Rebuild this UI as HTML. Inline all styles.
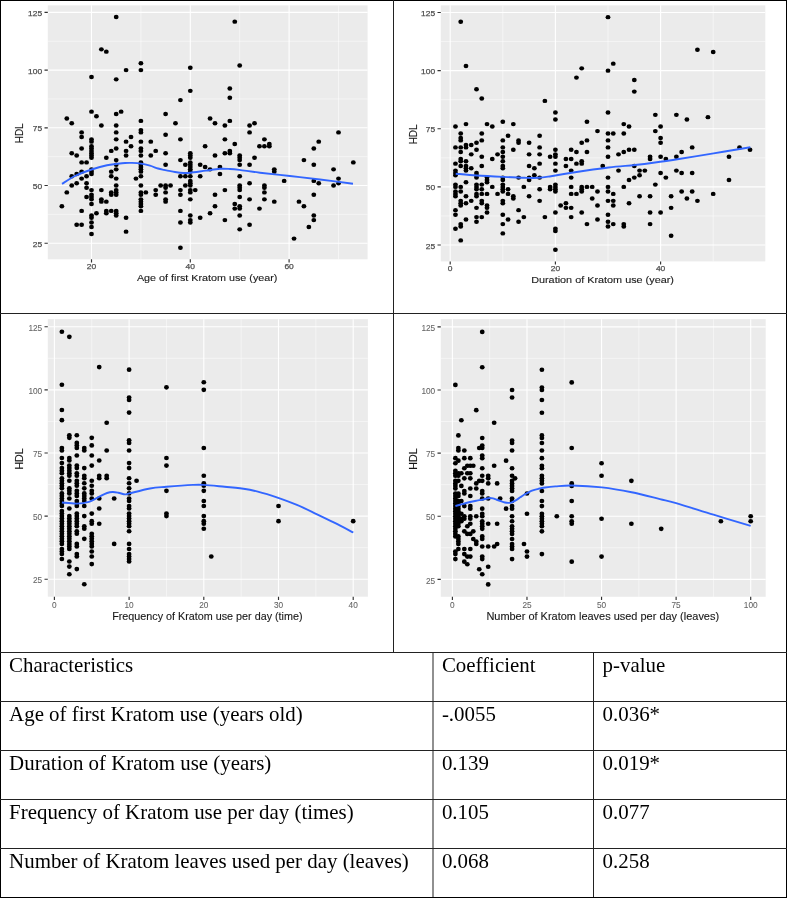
<!DOCTYPE html>
<html><head><meta charset="utf-8"><title>HDL and Kratom use</title>
<style>
html,body{margin:0;padding:0;background:#fff;}
body{width:787px;height:898px;position:relative;overflow:hidden;}
svg{position:absolute;left:0;top:0;}
.ax{font-family:"Liberation Sans",sans-serif;fill:#4d4d4d;stroke:#4d4d4d;stroke-width:0.25px;}
.lt{stroke-width:0.08px;fill:#636363;stroke:#636363;}
.ti{font-family:"Liberation Sans",sans-serif;fill:#1a1a1a;stroke:#1a1a1a;stroke-width:0.12px;}
.tb{position:absolute;font-family:"Liberation Serif",serif;font-size:20.9px;line-height:24px;color:#000;white-space:nowrap;}
</style></head><body>
<svg width="787" height="898" viewBox="0 0 787 898">
<defs><filter id="soft" x="-2%" y="-2%" width="104%" height="104%"><feGaussianBlur stdDeviation="0.38"/></filter></defs>

<g id="p1" filter="url(#soft)">
<rect x="47.8" y="5.35" width="319.8" height="253.95" fill="#ebebeb"/>
<path d="M140.9 5.35V259.3M239.7 5.35V259.3M338.5 5.35V259.3M47.8 214.35H367.6M47.8 156.65H367.6M47.8 98.95H367.6M47.8 41.25H367.6" stroke="#fff" stroke-width="0.55" fill="none" opacity="0.9"/>
<path d="M91.5 5.35V259.3M190.3 5.35V259.3M289.1 5.35V259.3M47.8 243.2H367.6M47.8 185.5H367.6M47.8 127.8H367.6M47.8 70.1H367.6M47.8 12.4H367.6" stroke="#fff" stroke-width="1.1" fill="none"/>
<path d="M91.5 259.3v3.2M190.3 259.3v3.2M289.1 259.3v3.2M47.8 243.2h-3.3M47.8 185.5h-3.3M47.8 127.8h-3.3M47.8 70.1h-3.3M47.8 12.4h-3.3" stroke="#333" stroke-width="1.15" fill="none"/>
<g fill="#000">
<ellipse cx="61.86" cy="206.27" rx="2.4" ry="2.2"/>
<ellipse cx="66.8" cy="118.57" rx="2.4" ry="2.2"/>
<ellipse cx="66.8" cy="192.42" rx="2.4" ry="2.2"/>
<ellipse cx="71.74" cy="123.18" rx="2.4" ry="2.2"/>
<ellipse cx="71.74" cy="153.19" rx="2.4" ry="2.2"/>
<ellipse cx="71.74" cy="176.27" rx="2.4" ry="2.2"/>
<ellipse cx="71.74" cy="185.5" rx="2.4" ry="2.2"/>
<ellipse cx="76.68" cy="155.5" rx="2.4" ry="2.2"/>
<ellipse cx="76.68" cy="173.96" rx="2.4" ry="2.2"/>
<ellipse cx="76.68" cy="183.19" rx="2.4" ry="2.2"/>
<ellipse cx="76.68" cy="224.74" rx="2.4" ry="2.2"/>
<ellipse cx="81.62" cy="132.42" rx="2.4" ry="2.2"/>
<ellipse cx="81.62" cy="137.03" rx="2.4" ry="2.2"/>
<ellipse cx="81.62" cy="148.57" rx="2.4" ry="2.2"/>
<ellipse cx="81.62" cy="162.42" rx="2.4" ry="2.2"/>
<ellipse cx="81.62" cy="171.65" rx="2.4" ry="2.2"/>
<ellipse cx="81.62" cy="178.58" rx="2.4" ry="2.2"/>
<ellipse cx="81.62" cy="210.89" rx="2.4" ry="2.2"/>
<ellipse cx="81.62" cy="224.74" rx="2.4" ry="2.2"/>
<ellipse cx="86.56" cy="162.42" rx="2.4" ry="2.2"/>
<ellipse cx="86.56" cy="176.27" rx="2.4" ry="2.2"/>
<ellipse cx="86.56" cy="183.19" rx="2.4" ry="2.2"/>
<ellipse cx="86.56" cy="187.81" rx="2.4" ry="2.2"/>
<ellipse cx="86.56" cy="197.04" rx="2.4" ry="2.2"/>
<ellipse cx="91.5" cy="77.02" rx="2.4" ry="2.2"/>
<ellipse cx="91.5" cy="111.64" rx="2.4" ry="2.2"/>
<ellipse cx="91.5" cy="139.34" rx="2.4" ry="2.2"/>
<ellipse cx="91.5" cy="141.65" rx="2.4" ry="2.2"/>
<ellipse cx="91.5" cy="146.26" rx="2.4" ry="2.2"/>
<ellipse cx="91.5" cy="148.57" rx="2.4" ry="2.2"/>
<ellipse cx="91.5" cy="150.88" rx="2.4" ry="2.2"/>
<ellipse cx="91.5" cy="153.19" rx="2.4" ry="2.2"/>
<ellipse cx="91.5" cy="155.5" rx="2.4" ry="2.2"/>
<ellipse cx="91.5" cy="157.8" rx="2.4" ry="2.2"/>
<ellipse cx="91.5" cy="169.34" rx="2.4" ry="2.2"/>
<ellipse cx="91.5" cy="171.65" rx="2.4" ry="2.2"/>
<ellipse cx="91.5" cy="173.96" rx="2.4" ry="2.2"/>
<ellipse cx="91.5" cy="190.12" rx="2.4" ry="2.2"/>
<ellipse cx="91.5" cy="194.73" rx="2.4" ry="2.2"/>
<ellipse cx="91.5" cy="197.04" rx="2.4" ry="2.2"/>
<ellipse cx="91.5" cy="199.35" rx="2.4" ry="2.2"/>
<ellipse cx="91.5" cy="203.96" rx="2.4" ry="2.2"/>
<ellipse cx="91.5" cy="215.5" rx="2.4" ry="2.2"/>
<ellipse cx="91.5" cy="217.81" rx="2.4" ry="2.2"/>
<ellipse cx="91.5" cy="222.43" rx="2.4" ry="2.2"/>
<ellipse cx="91.5" cy="227.04" rx="2.4" ry="2.2"/>
<ellipse cx="91.5" cy="233.97" rx="2.4" ry="2.2"/>
<ellipse cx="96.44" cy="116.26" rx="2.4" ry="2.2"/>
<ellipse cx="96.44" cy="213.2" rx="2.4" ry="2.2"/>
<ellipse cx="101.38" cy="49.33" rx="2.4" ry="2.2"/>
<ellipse cx="101.38" cy="125.49" rx="2.4" ry="2.2"/>
<ellipse cx="101.38" cy="190.12" rx="2.4" ry="2.2"/>
<ellipse cx="101.38" cy="199.35" rx="2.4" ry="2.2"/>
<ellipse cx="101.38" cy="201.66" rx="2.4" ry="2.2"/>
<ellipse cx="106.32" cy="51.64" rx="2.4" ry="2.2"/>
<ellipse cx="106.32" cy="157.8" rx="2.4" ry="2.2"/>
<ellipse cx="106.32" cy="201.66" rx="2.4" ry="2.2"/>
<ellipse cx="106.32" cy="210.89" rx="2.4" ry="2.2"/>
<ellipse cx="106.32" cy="213.2" rx="2.4" ry="2.2"/>
<ellipse cx="111.26" cy="150.88" rx="2.4" ry="2.2"/>
<ellipse cx="111.26" cy="171.65" rx="2.4" ry="2.2"/>
<ellipse cx="111.26" cy="176.27" rx="2.4" ry="2.2"/>
<ellipse cx="111.26" cy="192.42" rx="2.4" ry="2.2"/>
<ellipse cx="111.26" cy="194.73" rx="2.4" ry="2.2"/>
<ellipse cx="111.26" cy="210.89" rx="2.4" ry="2.2"/>
<ellipse cx="116.2" cy="17.02" rx="2.4" ry="2.2"/>
<ellipse cx="116.2" cy="79.33" rx="2.4" ry="2.2"/>
<ellipse cx="116.2" cy="113.95" rx="2.4" ry="2.2"/>
<ellipse cx="116.2" cy="125.49" rx="2.4" ry="2.2"/>
<ellipse cx="116.2" cy="132.42" rx="2.4" ry="2.2"/>
<ellipse cx="116.2" cy="139.34" rx="2.4" ry="2.2"/>
<ellipse cx="116.2" cy="148.57" rx="2.4" ry="2.2"/>
<ellipse cx="116.2" cy="160.11" rx="2.4" ry="2.2"/>
<ellipse cx="116.2" cy="164.73" rx="2.4" ry="2.2"/>
<ellipse cx="116.2" cy="169.34" rx="2.4" ry="2.2"/>
<ellipse cx="116.2" cy="178.58" rx="2.4" ry="2.2"/>
<ellipse cx="116.2" cy="185.5" rx="2.4" ry="2.2"/>
<ellipse cx="116.2" cy="190.12" rx="2.4" ry="2.2"/>
<ellipse cx="116.2" cy="192.42" rx="2.4" ry="2.2"/>
<ellipse cx="116.2" cy="194.73" rx="2.4" ry="2.2"/>
<ellipse cx="116.2" cy="210.89" rx="2.4" ry="2.2"/>
<ellipse cx="116.2" cy="213.2" rx="2.4" ry="2.2"/>
<ellipse cx="116.2" cy="215.5" rx="2.4" ry="2.2"/>
<ellipse cx="121.14" cy="111.64" rx="2.4" ry="2.2"/>
<ellipse cx="126.08" cy="70.1" rx="2.4" ry="2.2"/>
<ellipse cx="126.08" cy="141.65" rx="2.4" ry="2.2"/>
<ellipse cx="126.08" cy="150.88" rx="2.4" ry="2.2"/>
<ellipse cx="126.08" cy="155.5" rx="2.4" ry="2.2"/>
<ellipse cx="126.08" cy="217.81" rx="2.4" ry="2.2"/>
<ellipse cx="126.08" cy="231.66" rx="2.4" ry="2.2"/>
<ellipse cx="131.02" cy="137.03" rx="2.4" ry="2.2"/>
<ellipse cx="131.02" cy="146.26" rx="2.4" ry="2.2"/>
<ellipse cx="135.96" cy="178.58" rx="2.4" ry="2.2"/>
<ellipse cx="140.9" cy="63.18" rx="2.4" ry="2.2"/>
<ellipse cx="140.9" cy="70.1" rx="2.4" ry="2.2"/>
<ellipse cx="140.9" cy="120.88" rx="2.4" ry="2.2"/>
<ellipse cx="140.9" cy="130.11" rx="2.4" ry="2.2"/>
<ellipse cx="140.9" cy="132.42" rx="2.4" ry="2.2"/>
<ellipse cx="140.9" cy="141.65" rx="2.4" ry="2.2"/>
<ellipse cx="140.9" cy="148.57" rx="2.4" ry="2.2"/>
<ellipse cx="140.9" cy="150.88" rx="2.4" ry="2.2"/>
<ellipse cx="140.9" cy="155.5" rx="2.4" ry="2.2"/>
<ellipse cx="140.9" cy="162.42" rx="2.4" ry="2.2"/>
<ellipse cx="140.9" cy="164.73" rx="2.4" ry="2.2"/>
<ellipse cx="140.9" cy="167.04" rx="2.4" ry="2.2"/>
<ellipse cx="140.9" cy="169.34" rx="2.4" ry="2.2"/>
<ellipse cx="140.9" cy="171.65" rx="2.4" ry="2.2"/>
<ellipse cx="140.9" cy="176.27" rx="2.4" ry="2.2"/>
<ellipse cx="140.9" cy="185.5" rx="2.4" ry="2.2"/>
<ellipse cx="140.9" cy="192.42" rx="2.4" ry="2.2"/>
<ellipse cx="140.9" cy="194.73" rx="2.4" ry="2.2"/>
<ellipse cx="140.9" cy="199.35" rx="2.4" ry="2.2"/>
<ellipse cx="140.9" cy="201.66" rx="2.4" ry="2.2"/>
<ellipse cx="140.9" cy="203.96" rx="2.4" ry="2.2"/>
<ellipse cx="140.9" cy="206.27" rx="2.4" ry="2.2"/>
<ellipse cx="140.9" cy="210.89" rx="2.4" ry="2.2"/>
<ellipse cx="145.84" cy="192.42" rx="2.4" ry="2.2"/>
<ellipse cx="150.78" cy="141.65" rx="2.4" ry="2.2"/>
<ellipse cx="150.78" cy="155.5" rx="2.4" ry="2.2"/>
<ellipse cx="155.72" cy="150.88" rx="2.4" ry="2.2"/>
<ellipse cx="155.72" cy="190.12" rx="2.4" ry="2.2"/>
<ellipse cx="155.72" cy="194.73" rx="2.4" ry="2.2"/>
<ellipse cx="160.66" cy="185.5" rx="2.4" ry="2.2"/>
<ellipse cx="165.6" cy="113.95" rx="2.4" ry="2.2"/>
<ellipse cx="165.6" cy="134.72" rx="2.4" ry="2.2"/>
<ellipse cx="165.6" cy="153.19" rx="2.4" ry="2.2"/>
<ellipse cx="165.6" cy="164.73" rx="2.4" ry="2.2"/>
<ellipse cx="165.6" cy="185.5" rx="2.4" ry="2.2"/>
<ellipse cx="165.6" cy="187.81" rx="2.4" ry="2.2"/>
<ellipse cx="165.6" cy="192.42" rx="2.4" ry="2.2"/>
<ellipse cx="165.6" cy="199.35" rx="2.4" ry="2.2"/>
<ellipse cx="165.6" cy="201.66" rx="2.4" ry="2.2"/>
<ellipse cx="170.54" cy="185.5" rx="2.4" ry="2.2"/>
<ellipse cx="175.48" cy="123.18" rx="2.4" ry="2.2"/>
<ellipse cx="180.42" cy="100.1" rx="2.4" ry="2.2"/>
<ellipse cx="180.42" cy="139.34" rx="2.4" ry="2.2"/>
<ellipse cx="180.42" cy="160.11" rx="2.4" ry="2.2"/>
<ellipse cx="180.42" cy="176.27" rx="2.4" ry="2.2"/>
<ellipse cx="180.42" cy="190.12" rx="2.4" ry="2.2"/>
<ellipse cx="180.42" cy="194.73" rx="2.4" ry="2.2"/>
<ellipse cx="180.42" cy="210.89" rx="2.4" ry="2.2"/>
<ellipse cx="180.42" cy="222.43" rx="2.4" ry="2.2"/>
<ellipse cx="180.42" cy="247.82" rx="2.4" ry="2.2"/>
<ellipse cx="185.36" cy="164.73" rx="2.4" ry="2.2"/>
<ellipse cx="185.36" cy="176.27" rx="2.4" ry="2.2"/>
<ellipse cx="185.36" cy="185.5" rx="2.4" ry="2.2"/>
<ellipse cx="190.3" cy="67.79" rx="2.4" ry="2.2"/>
<ellipse cx="190.3" cy="90.87" rx="2.4" ry="2.2"/>
<ellipse cx="190.3" cy="153.19" rx="2.4" ry="2.2"/>
<ellipse cx="190.3" cy="155.5" rx="2.4" ry="2.2"/>
<ellipse cx="190.3" cy="157.8" rx="2.4" ry="2.2"/>
<ellipse cx="190.3" cy="162.42" rx="2.4" ry="2.2"/>
<ellipse cx="190.3" cy="164.73" rx="2.4" ry="2.2"/>
<ellipse cx="190.3" cy="167.04" rx="2.4" ry="2.2"/>
<ellipse cx="190.3" cy="169.34" rx="2.4" ry="2.2"/>
<ellipse cx="190.3" cy="171.65" rx="2.4" ry="2.2"/>
<ellipse cx="190.3" cy="176.27" rx="2.4" ry="2.2"/>
<ellipse cx="190.3" cy="180.88" rx="2.4" ry="2.2"/>
<ellipse cx="190.3" cy="183.19" rx="2.4" ry="2.2"/>
<ellipse cx="190.3" cy="185.5" rx="2.4" ry="2.2"/>
<ellipse cx="190.3" cy="190.12" rx="2.4" ry="2.2"/>
<ellipse cx="190.3" cy="192.42" rx="2.4" ry="2.2"/>
<ellipse cx="190.3" cy="199.35" rx="2.4" ry="2.2"/>
<ellipse cx="190.3" cy="215.5" rx="2.4" ry="2.2"/>
<ellipse cx="190.3" cy="220.12" rx="2.4" ry="2.2"/>
<ellipse cx="190.3" cy="222.43" rx="2.4" ry="2.2"/>
<ellipse cx="195.24" cy="190.12" rx="2.4" ry="2.2"/>
<ellipse cx="200.18" cy="164.73" rx="2.4" ry="2.2"/>
<ellipse cx="200.18" cy="176.27" rx="2.4" ry="2.2"/>
<ellipse cx="200.18" cy="217.81" rx="2.4" ry="2.2"/>
<ellipse cx="205.12" cy="146.26" rx="2.4" ry="2.2"/>
<ellipse cx="205.12" cy="167.04" rx="2.4" ry="2.2"/>
<ellipse cx="210.06" cy="118.57" rx="2.4" ry="2.2"/>
<ellipse cx="210.06" cy="169.34" rx="2.4" ry="2.2"/>
<ellipse cx="210.06" cy="213.2" rx="2.4" ry="2.2"/>
<ellipse cx="215" cy="123.18" rx="2.4" ry="2.2"/>
<ellipse cx="215" cy="155.5" rx="2.4" ry="2.2"/>
<ellipse cx="215" cy="194.73" rx="2.4" ry="2.2"/>
<ellipse cx="215" cy="206.27" rx="2.4" ry="2.2"/>
<ellipse cx="219.94" cy="167.04" rx="2.4" ry="2.2"/>
<ellipse cx="219.94" cy="173.96" rx="2.4" ry="2.2"/>
<ellipse cx="224.88" cy="125.49" rx="2.4" ry="2.2"/>
<ellipse cx="224.88" cy="139.34" rx="2.4" ry="2.2"/>
<ellipse cx="224.88" cy="153.19" rx="2.4" ry="2.2"/>
<ellipse cx="224.88" cy="190.12" rx="2.4" ry="2.2"/>
<ellipse cx="224.88" cy="220.12" rx="2.4" ry="2.2"/>
<ellipse cx="229.82" cy="88.56" rx="2.4" ry="2.2"/>
<ellipse cx="229.82" cy="97.8" rx="2.4" ry="2.2"/>
<ellipse cx="229.82" cy="120.88" rx="2.4" ry="2.2"/>
<ellipse cx="229.82" cy="150.88" rx="2.4" ry="2.2"/>
<ellipse cx="229.82" cy="153.19" rx="2.4" ry="2.2"/>
<ellipse cx="234.76" cy="21.63" rx="2.4" ry="2.2"/>
<ellipse cx="234.76" cy="143.96" rx="2.4" ry="2.2"/>
<ellipse cx="234.76" cy="203.96" rx="2.4" ry="2.2"/>
<ellipse cx="234.76" cy="208.58" rx="2.4" ry="2.2"/>
<ellipse cx="239.7" cy="65.48" rx="2.4" ry="2.2"/>
<ellipse cx="239.7" cy="155.5" rx="2.4" ry="2.2"/>
<ellipse cx="239.7" cy="157.8" rx="2.4" ry="2.2"/>
<ellipse cx="239.7" cy="160.11" rx="2.4" ry="2.2"/>
<ellipse cx="239.7" cy="164.73" rx="2.4" ry="2.2"/>
<ellipse cx="239.7" cy="176.27" rx="2.4" ry="2.2"/>
<ellipse cx="239.7" cy="185.5" rx="2.4" ry="2.2"/>
<ellipse cx="239.7" cy="187.81" rx="2.4" ry="2.2"/>
<ellipse cx="239.7" cy="190.12" rx="2.4" ry="2.2"/>
<ellipse cx="239.7" cy="197.04" rx="2.4" ry="2.2"/>
<ellipse cx="239.7" cy="206.27" rx="2.4" ry="2.2"/>
<ellipse cx="239.7" cy="208.58" rx="2.4" ry="2.2"/>
<ellipse cx="239.7" cy="215.5" rx="2.4" ry="2.2"/>
<ellipse cx="239.7" cy="229.35" rx="2.4" ry="2.2"/>
<ellipse cx="249.58" cy="125.49" rx="2.4" ry="2.2"/>
<ellipse cx="249.58" cy="132.42" rx="2.4" ry="2.2"/>
<ellipse cx="249.58" cy="164.73" rx="2.4" ry="2.2"/>
<ellipse cx="249.58" cy="183.19" rx="2.4" ry="2.2"/>
<ellipse cx="249.58" cy="199.35" rx="2.4" ry="2.2"/>
<ellipse cx="249.58" cy="224.74" rx="2.4" ry="2.2"/>
<ellipse cx="254.52" cy="123.18" rx="2.4" ry="2.2"/>
<ellipse cx="254.52" cy="157.8" rx="2.4" ry="2.2"/>
<ellipse cx="259.46" cy="146.26" rx="2.4" ry="2.2"/>
<ellipse cx="259.46" cy="208.58" rx="2.4" ry="2.2"/>
<ellipse cx="264.4" cy="139.34" rx="2.4" ry="2.2"/>
<ellipse cx="264.4" cy="146.26" rx="2.4" ry="2.2"/>
<ellipse cx="264.4" cy="185.5" rx="2.4" ry="2.2"/>
<ellipse cx="264.4" cy="187.81" rx="2.4" ry="2.2"/>
<ellipse cx="264.4" cy="192.42" rx="2.4" ry="2.2"/>
<ellipse cx="264.4" cy="199.35" rx="2.4" ry="2.2"/>
<ellipse cx="269.34" cy="143.96" rx="2.4" ry="2.2"/>
<ellipse cx="269.34" cy="146.26" rx="2.4" ry="2.2"/>
<ellipse cx="274.28" cy="169.34" rx="2.4" ry="2.2"/>
<ellipse cx="274.28" cy="171.65" rx="2.4" ry="2.2"/>
<ellipse cx="274.28" cy="201.66" rx="2.4" ry="2.2"/>
<ellipse cx="284.16" cy="180.88" rx="2.4" ry="2.2"/>
<ellipse cx="294.04" cy="238.58" rx="2.4" ry="2.2"/>
<ellipse cx="298.98" cy="201.66" rx="2.4" ry="2.2"/>
<ellipse cx="303.92" cy="160.11" rx="2.4" ry="2.2"/>
<ellipse cx="303.92" cy="206.27" rx="2.4" ry="2.2"/>
<ellipse cx="308.86" cy="227.04" rx="2.4" ry="2.2"/>
<ellipse cx="313.8" cy="148.57" rx="2.4" ry="2.2"/>
<ellipse cx="313.8" cy="164.73" rx="2.4" ry="2.2"/>
<ellipse cx="313.8" cy="180.88" rx="2.4" ry="2.2"/>
<ellipse cx="313.8" cy="194.73" rx="2.4" ry="2.2"/>
<ellipse cx="313.8" cy="215.5" rx="2.4" ry="2.2"/>
<ellipse cx="313.8" cy="220.12" rx="2.4" ry="2.2"/>
<ellipse cx="318.74" cy="141.65" rx="2.4" ry="2.2"/>
<ellipse cx="318.74" cy="183.19" rx="2.4" ry="2.2"/>
<ellipse cx="333.56" cy="169.34" rx="2.4" ry="2.2"/>
<ellipse cx="333.56" cy="185.5" rx="2.4" ry="2.2"/>
<ellipse cx="338.5" cy="132.42" rx="2.4" ry="2.2"/>
<ellipse cx="338.5" cy="178.58" rx="2.4" ry="2.2"/>
<ellipse cx="338.5" cy="183.19" rx="2.4" ry="2.2"/>
<ellipse cx="353.32" cy="162.42" rx="2.4" ry="2.2"/>
</g>
<path d="M62 183.9C64.17 182.58 70.07 178.4 75 176C79.93 173.6 86.27 171.28 91.6 169.5C96.93 167.72 102.9 166.22 107 165.3C111.1 164.38 113.2 164.38 116.2 164C119.2 163.62 122.38 163.18 125 163C127.62 162.82 129.23 162.8 131.9 162.9C134.57 163 137.98 163.13 141 163.6C144.02 164.07 147.17 164.88 150 165.7C152.83 166.52 155.67 167.8 158 168.5C160.33 169.2 161.17 169.32 164 169.9C166.83 170.48 171.75 171.48 175 172C178.25 172.52 180.95 172.88 183.5 173C186.05 173.12 186.57 173.1 190.3 172.7C194.03 172.3 200.97 171.25 205.9 170.6C210.83 169.95 215.88 169.07 219.9 168.8C223.92 168.53 226.75 168.82 230 169C233.25 169.18 234.4 169.28 239.4 169.9C244.4 170.52 251.57 171.68 260 172.7C268.43 173.72 280 174.87 290 176C300 177.13 309.5 178.22 320 179.5C330.5 180.78 347.5 183 353 183.7" stroke="#3366ff" stroke-width="1.9" fill="none" stroke-linecap="butt" stroke-linejoin="round"/>
<text class="ax" x="91.5" y="269.1" font-size="8.0" text-anchor="middle" textLength="9.4" lengthAdjust="spacingAndGlyphs">20</text>
<text class="ax" x="190.3" y="269.1" font-size="8.0" text-anchor="middle" textLength="9.4" lengthAdjust="spacingAndGlyphs">40</text>
<text class="ax" x="289.1" y="269.1" font-size="8.0" text-anchor="middle" textLength="9.4" lengthAdjust="spacingAndGlyphs">60</text>
<text class="ax" x="42.2" y="246.75" font-size="8.0" text-anchor="end" textLength="9.4" lengthAdjust="spacingAndGlyphs">25</text>
<text class="ax" x="42.2" y="189.05" font-size="8.0" text-anchor="end" textLength="9.4" lengthAdjust="spacingAndGlyphs">50</text>
<text class="ax" x="42.2" y="131.35" font-size="8.0" text-anchor="end" textLength="9.4" lengthAdjust="spacingAndGlyphs">75</text>
<text class="ax" x="42.2" y="73.65" font-size="8.0" text-anchor="end" textLength="14.1" lengthAdjust="spacingAndGlyphs">100</text>
<text class="ax" x="42.2" y="15.95" font-size="8.0" text-anchor="end" textLength="14.1" lengthAdjust="spacingAndGlyphs">125</text>
<text class="ti" x="207.2" y="280.8" font-size="9.9" text-anchor="middle" textLength="140.5" lengthAdjust="spacingAndGlyphs">Age of first Kratom use (year)</text>
<text class="ti" font-size="9.9" text-anchor="middle" transform="translate(23.1 133.33) scale(1.15 1) rotate(-90)">HDL</text>
</g>
<g id="p2" filter="url(#soft)">
<rect x="440.8" y="5.35" width="324.5" height="256.05" fill="#ebebeb"/>
<path d="M502.8 5.35V261.4M608 5.35V261.4M713.2 5.35V261.4M440.8 215.96H765.3M440.8 157.84H765.3M440.8 99.71H765.3M440.8 41.59H765.3" stroke="#fff" stroke-width="0.55" fill="none" opacity="0.9"/>
<path d="M450.2 5.35V261.4M555.4 5.35V261.4M660.6 5.35V261.4M440.8 245.03H765.3M440.8 186.9H765.3M440.8 128.78H765.3M440.8 70.65H765.3M440.8 12.53H765.3" stroke="#fff" stroke-width="1.1" fill="none"/>
<path d="M450.2 261.4v3.2M555.4 261.4v3.2M660.6 261.4v3.2M440.8 245.03h-3.3M440.8 186.9h-3.3M440.8 128.78h-3.3M440.8 70.65h-3.3M440.8 12.53h-3.3" stroke="#333" stroke-width="1.15" fill="none"/>
<g fill="#000">
<ellipse cx="455.46" cy="126.45" rx="2.4" ry="2.2"/>
<ellipse cx="455.46" cy="147.38" rx="2.4" ry="2.2"/>
<ellipse cx="455.46" cy="163.65" rx="2.4" ry="2.2"/>
<ellipse cx="455.46" cy="170.62" rx="2.4" ry="2.2"/>
<ellipse cx="455.46" cy="172.95" rx="2.4" ry="2.2"/>
<ellipse cx="455.46" cy="175.28" rx="2.4" ry="2.2"/>
<ellipse cx="455.46" cy="184.58" rx="2.4" ry="2.2"/>
<ellipse cx="455.46" cy="186.9" rx="2.4" ry="2.2"/>
<ellipse cx="455.46" cy="191.55" rx="2.4" ry="2.2"/>
<ellipse cx="455.46" cy="193.88" rx="2.4" ry="2.2"/>
<ellipse cx="455.46" cy="196.2" rx="2.4" ry="2.2"/>
<ellipse cx="455.46" cy="210.15" rx="2.4" ry="2.2"/>
<ellipse cx="455.46" cy="214.8" rx="2.4" ry="2.2"/>
<ellipse cx="455.46" cy="228.75" rx="2.4" ry="2.2"/>
<ellipse cx="460.72" cy="21.82" rx="2.4" ry="2.2"/>
<ellipse cx="460.72" cy="133.43" rx="2.4" ry="2.2"/>
<ellipse cx="460.72" cy="138.07" rx="2.4" ry="2.2"/>
<ellipse cx="460.72" cy="140.4" rx="2.4" ry="2.2"/>
<ellipse cx="460.72" cy="147.38" rx="2.4" ry="2.2"/>
<ellipse cx="460.72" cy="152.03" rx="2.4" ry="2.2"/>
<ellipse cx="460.72" cy="159" rx="2.4" ry="2.2"/>
<ellipse cx="460.72" cy="161.32" rx="2.4" ry="2.2"/>
<ellipse cx="460.72" cy="165.97" rx="2.4" ry="2.2"/>
<ellipse cx="460.72" cy="186.9" rx="2.4" ry="2.2"/>
<ellipse cx="460.72" cy="191.55" rx="2.4" ry="2.2"/>
<ellipse cx="460.72" cy="200.85" rx="2.4" ry="2.2"/>
<ellipse cx="460.72" cy="203.18" rx="2.4" ry="2.2"/>
<ellipse cx="460.72" cy="205.5" rx="2.4" ry="2.2"/>
<ellipse cx="460.72" cy="224.1" rx="2.4" ry="2.2"/>
<ellipse cx="460.72" cy="226.43" rx="2.4" ry="2.2"/>
<ellipse cx="460.72" cy="240.38" rx="2.4" ry="2.2"/>
<ellipse cx="465.98" cy="66" rx="2.4" ry="2.2"/>
<ellipse cx="465.98" cy="124.12" rx="2.4" ry="2.2"/>
<ellipse cx="465.98" cy="145.05" rx="2.4" ry="2.2"/>
<ellipse cx="465.98" cy="147.38" rx="2.4" ry="2.2"/>
<ellipse cx="465.98" cy="161.32" rx="2.4" ry="2.2"/>
<ellipse cx="465.98" cy="165.97" rx="2.4" ry="2.2"/>
<ellipse cx="465.98" cy="168.3" rx="2.4" ry="2.2"/>
<ellipse cx="465.98" cy="170.62" rx="2.4" ry="2.2"/>
<ellipse cx="465.98" cy="182.25" rx="2.4" ry="2.2"/>
<ellipse cx="465.98" cy="196.2" rx="2.4" ry="2.2"/>
<ellipse cx="465.98" cy="203.18" rx="2.4" ry="2.2"/>
<ellipse cx="465.98" cy="219.45" rx="2.4" ry="2.2"/>
<ellipse cx="471.24" cy="145.05" rx="2.4" ry="2.2"/>
<ellipse cx="471.24" cy="154.35" rx="2.4" ry="2.2"/>
<ellipse cx="471.24" cy="168.3" rx="2.4" ry="2.2"/>
<ellipse cx="471.24" cy="200.85" rx="2.4" ry="2.2"/>
<ellipse cx="476.5" cy="89.25" rx="2.4" ry="2.2"/>
<ellipse cx="476.5" cy="142.72" rx="2.4" ry="2.2"/>
<ellipse cx="476.5" cy="149.7" rx="2.4" ry="2.2"/>
<ellipse cx="476.5" cy="172.95" rx="2.4" ry="2.2"/>
<ellipse cx="476.5" cy="175.28" rx="2.4" ry="2.2"/>
<ellipse cx="476.5" cy="177.6" rx="2.4" ry="2.2"/>
<ellipse cx="476.5" cy="184.58" rx="2.4" ry="2.2"/>
<ellipse cx="476.5" cy="186.9" rx="2.4" ry="2.2"/>
<ellipse cx="476.5" cy="189.22" rx="2.4" ry="2.2"/>
<ellipse cx="476.5" cy="193.88" rx="2.4" ry="2.2"/>
<ellipse cx="476.5" cy="196.2" rx="2.4" ry="2.2"/>
<ellipse cx="476.5" cy="207.83" rx="2.4" ry="2.2"/>
<ellipse cx="476.5" cy="217.12" rx="2.4" ry="2.2"/>
<ellipse cx="476.5" cy="221.78" rx="2.4" ry="2.2"/>
<ellipse cx="481.76" cy="98.55" rx="2.4" ry="2.2"/>
<ellipse cx="481.76" cy="133.43" rx="2.4" ry="2.2"/>
<ellipse cx="481.76" cy="140.4" rx="2.4" ry="2.2"/>
<ellipse cx="481.76" cy="156.68" rx="2.4" ry="2.2"/>
<ellipse cx="481.76" cy="165.97" rx="2.4" ry="2.2"/>
<ellipse cx="481.76" cy="184.58" rx="2.4" ry="2.2"/>
<ellipse cx="481.76" cy="189.22" rx="2.4" ry="2.2"/>
<ellipse cx="481.76" cy="193.88" rx="2.4" ry="2.2"/>
<ellipse cx="481.76" cy="200.85" rx="2.4" ry="2.2"/>
<ellipse cx="481.76" cy="203.18" rx="2.4" ry="2.2"/>
<ellipse cx="481.76" cy="217.12" rx="2.4" ry="2.2"/>
<ellipse cx="487.02" cy="124.12" rx="2.4" ry="2.2"/>
<ellipse cx="487.02" cy="177.6" rx="2.4" ry="2.2"/>
<ellipse cx="487.02" cy="179.93" rx="2.4" ry="2.2"/>
<ellipse cx="487.02" cy="182.25" rx="2.4" ry="2.2"/>
<ellipse cx="487.02" cy="193.88" rx="2.4" ry="2.2"/>
<ellipse cx="487.02" cy="205.5" rx="2.4" ry="2.2"/>
<ellipse cx="487.02" cy="207.83" rx="2.4" ry="2.2"/>
<ellipse cx="487.02" cy="212.48" rx="2.4" ry="2.2"/>
<ellipse cx="492.28" cy="126.45" rx="2.4" ry="2.2"/>
<ellipse cx="492.28" cy="159" rx="2.4" ry="2.2"/>
<ellipse cx="492.28" cy="186.9" rx="2.4" ry="2.2"/>
<ellipse cx="497.54" cy="154.35" rx="2.4" ry="2.2"/>
<ellipse cx="497.54" cy="193.88" rx="2.4" ry="2.2"/>
<ellipse cx="502.8" cy="121.8" rx="2.4" ry="2.2"/>
<ellipse cx="502.8" cy="140.4" rx="2.4" ry="2.2"/>
<ellipse cx="502.8" cy="147.38" rx="2.4" ry="2.2"/>
<ellipse cx="502.8" cy="152.03" rx="2.4" ry="2.2"/>
<ellipse cx="502.8" cy="156.68" rx="2.4" ry="2.2"/>
<ellipse cx="502.8" cy="161.32" rx="2.4" ry="2.2"/>
<ellipse cx="502.8" cy="165.97" rx="2.4" ry="2.2"/>
<ellipse cx="502.8" cy="168.3" rx="2.4" ry="2.2"/>
<ellipse cx="502.8" cy="177.6" rx="2.4" ry="2.2"/>
<ellipse cx="502.8" cy="179.93" rx="2.4" ry="2.2"/>
<ellipse cx="502.8" cy="184.58" rx="2.4" ry="2.2"/>
<ellipse cx="502.8" cy="186.9" rx="2.4" ry="2.2"/>
<ellipse cx="502.8" cy="189.22" rx="2.4" ry="2.2"/>
<ellipse cx="502.8" cy="191.55" rx="2.4" ry="2.2"/>
<ellipse cx="502.8" cy="200.85" rx="2.4" ry="2.2"/>
<ellipse cx="502.8" cy="203.18" rx="2.4" ry="2.2"/>
<ellipse cx="502.8" cy="214.8" rx="2.4" ry="2.2"/>
<ellipse cx="502.8" cy="224.1" rx="2.4" ry="2.2"/>
<ellipse cx="502.8" cy="233.4" rx="2.4" ry="2.2"/>
<ellipse cx="508.06" cy="135.75" rx="2.4" ry="2.2"/>
<ellipse cx="508.06" cy="189.22" rx="2.4" ry="2.2"/>
<ellipse cx="508.06" cy="193.88" rx="2.4" ry="2.2"/>
<ellipse cx="508.06" cy="219.45" rx="2.4" ry="2.2"/>
<ellipse cx="513.32" cy="124.12" rx="2.4" ry="2.2"/>
<ellipse cx="513.32" cy="149.7" rx="2.4" ry="2.2"/>
<ellipse cx="513.32" cy="196.2" rx="2.4" ry="2.2"/>
<ellipse cx="513.32" cy="198.53" rx="2.4" ry="2.2"/>
<ellipse cx="518.58" cy="140.4" rx="2.4" ry="2.2"/>
<ellipse cx="518.58" cy="142.72" rx="2.4" ry="2.2"/>
<ellipse cx="518.58" cy="177.6" rx="2.4" ry="2.2"/>
<ellipse cx="518.58" cy="210.15" rx="2.4" ry="2.2"/>
<ellipse cx="518.58" cy="221.78" rx="2.4" ry="2.2"/>
<ellipse cx="523.84" cy="186.9" rx="2.4" ry="2.2"/>
<ellipse cx="523.84" cy="217.12" rx="2.4" ry="2.2"/>
<ellipse cx="529.1" cy="142.72" rx="2.4" ry="2.2"/>
<ellipse cx="529.1" cy="154.35" rx="2.4" ry="2.2"/>
<ellipse cx="529.1" cy="165.97" rx="2.4" ry="2.2"/>
<ellipse cx="529.1" cy="177.6" rx="2.4" ry="2.2"/>
<ellipse cx="529.1" cy="179.93" rx="2.4" ry="2.2"/>
<ellipse cx="529.1" cy="196.2" rx="2.4" ry="2.2"/>
<ellipse cx="534.36" cy="168.3" rx="2.4" ry="2.2"/>
<ellipse cx="534.36" cy="175.28" rx="2.4" ry="2.2"/>
<ellipse cx="539.62" cy="135.75" rx="2.4" ry="2.2"/>
<ellipse cx="539.62" cy="147.38" rx="2.4" ry="2.2"/>
<ellipse cx="539.62" cy="154.35" rx="2.4" ry="2.2"/>
<ellipse cx="539.62" cy="163.65" rx="2.4" ry="2.2"/>
<ellipse cx="539.62" cy="177.6" rx="2.4" ry="2.2"/>
<ellipse cx="539.62" cy="189.22" rx="2.4" ry="2.2"/>
<ellipse cx="539.62" cy="200.85" rx="2.4" ry="2.2"/>
<ellipse cx="544.88" cy="100.88" rx="2.4" ry="2.2"/>
<ellipse cx="544.88" cy="217.12" rx="2.4" ry="2.2"/>
<ellipse cx="550.14" cy="156.68" rx="2.4" ry="2.2"/>
<ellipse cx="550.14" cy="186.9" rx="2.4" ry="2.2"/>
<ellipse cx="550.14" cy="189.22" rx="2.4" ry="2.2"/>
<ellipse cx="555.4" cy="112.5" rx="2.4" ry="2.2"/>
<ellipse cx="555.4" cy="119.47" rx="2.4" ry="2.2"/>
<ellipse cx="555.4" cy="149.7" rx="2.4" ry="2.2"/>
<ellipse cx="555.4" cy="154.35" rx="2.4" ry="2.2"/>
<ellipse cx="555.4" cy="156.68" rx="2.4" ry="2.2"/>
<ellipse cx="555.4" cy="163.65" rx="2.4" ry="2.2"/>
<ellipse cx="555.4" cy="170.62" rx="2.4" ry="2.2"/>
<ellipse cx="555.4" cy="184.58" rx="2.4" ry="2.2"/>
<ellipse cx="555.4" cy="186.9" rx="2.4" ry="2.2"/>
<ellipse cx="555.4" cy="189.22" rx="2.4" ry="2.2"/>
<ellipse cx="555.4" cy="191.55" rx="2.4" ry="2.2"/>
<ellipse cx="555.4" cy="212.48" rx="2.4" ry="2.2"/>
<ellipse cx="555.4" cy="228.75" rx="2.4" ry="2.2"/>
<ellipse cx="555.4" cy="231.08" rx="2.4" ry="2.2"/>
<ellipse cx="555.4" cy="249.68" rx="2.4" ry="2.2"/>
<ellipse cx="560.66" cy="205.5" rx="2.4" ry="2.2"/>
<ellipse cx="565.92" cy="159" rx="2.4" ry="2.2"/>
<ellipse cx="565.92" cy="165.97" rx="2.4" ry="2.2"/>
<ellipse cx="565.92" cy="203.18" rx="2.4" ry="2.2"/>
<ellipse cx="565.92" cy="207.83" rx="2.4" ry="2.2"/>
<ellipse cx="571.18" cy="149.7" rx="2.4" ry="2.2"/>
<ellipse cx="571.18" cy="159" rx="2.4" ry="2.2"/>
<ellipse cx="571.18" cy="170.62" rx="2.4" ry="2.2"/>
<ellipse cx="571.18" cy="177.6" rx="2.4" ry="2.2"/>
<ellipse cx="571.18" cy="186.9" rx="2.4" ry="2.2"/>
<ellipse cx="571.18" cy="193.88" rx="2.4" ry="2.2"/>
<ellipse cx="571.18" cy="207.83" rx="2.4" ry="2.2"/>
<ellipse cx="571.18" cy="217.12" rx="2.4" ry="2.2"/>
<ellipse cx="576.44" cy="77.62" rx="2.4" ry="2.2"/>
<ellipse cx="576.44" cy="152.03" rx="2.4" ry="2.2"/>
<ellipse cx="576.44" cy="163.65" rx="2.4" ry="2.2"/>
<ellipse cx="576.44" cy="193.88" rx="2.4" ry="2.2"/>
<ellipse cx="581.7" cy="68.33" rx="2.4" ry="2.2"/>
<ellipse cx="581.7" cy="142.72" rx="2.4" ry="2.2"/>
<ellipse cx="581.7" cy="161.32" rx="2.4" ry="2.2"/>
<ellipse cx="581.7" cy="163.65" rx="2.4" ry="2.2"/>
<ellipse cx="581.7" cy="186.9" rx="2.4" ry="2.2"/>
<ellipse cx="581.7" cy="189.22" rx="2.4" ry="2.2"/>
<ellipse cx="581.7" cy="191.55" rx="2.4" ry="2.2"/>
<ellipse cx="581.7" cy="212.48" rx="2.4" ry="2.2"/>
<ellipse cx="586.96" cy="121.8" rx="2.4" ry="2.2"/>
<ellipse cx="586.96" cy="140.4" rx="2.4" ry="2.2"/>
<ellipse cx="586.96" cy="152.03" rx="2.4" ry="2.2"/>
<ellipse cx="586.96" cy="186.9" rx="2.4" ry="2.2"/>
<ellipse cx="586.96" cy="224.1" rx="2.4" ry="2.2"/>
<ellipse cx="592.22" cy="186.9" rx="2.4" ry="2.2"/>
<ellipse cx="592.22" cy="198.53" rx="2.4" ry="2.2"/>
<ellipse cx="597.48" cy="131.1" rx="2.4" ry="2.2"/>
<ellipse cx="597.48" cy="191.55" rx="2.4" ry="2.2"/>
<ellipse cx="597.48" cy="205.5" rx="2.4" ry="2.2"/>
<ellipse cx="597.48" cy="219.45" rx="2.4" ry="2.2"/>
<ellipse cx="602.74" cy="165.97" rx="2.4" ry="2.2"/>
<ellipse cx="608" cy="17.17" rx="2.4" ry="2.2"/>
<ellipse cx="608" cy="70.65" rx="2.4" ry="2.2"/>
<ellipse cx="608" cy="112.5" rx="2.4" ry="2.2"/>
<ellipse cx="608" cy="133.43" rx="2.4" ry="2.2"/>
<ellipse cx="608" cy="140.4" rx="2.4" ry="2.2"/>
<ellipse cx="608" cy="147.38" rx="2.4" ry="2.2"/>
<ellipse cx="608" cy="156.68" rx="2.4" ry="2.2"/>
<ellipse cx="608" cy="177.6" rx="2.4" ry="2.2"/>
<ellipse cx="608" cy="186.9" rx="2.4" ry="2.2"/>
<ellipse cx="608" cy="191.55" rx="2.4" ry="2.2"/>
<ellipse cx="608" cy="200.85" rx="2.4" ry="2.2"/>
<ellipse cx="608" cy="214.8" rx="2.4" ry="2.2"/>
<ellipse cx="608" cy="221.78" rx="2.4" ry="2.2"/>
<ellipse cx="608" cy="226.43" rx="2.4" ry="2.2"/>
<ellipse cx="613.26" cy="63.67" rx="2.4" ry="2.2"/>
<ellipse cx="613.26" cy="133.43" rx="2.4" ry="2.2"/>
<ellipse cx="613.26" cy="193.88" rx="2.4" ry="2.2"/>
<ellipse cx="613.26" cy="200.85" rx="2.4" ry="2.2"/>
<ellipse cx="613.26" cy="205.5" rx="2.4" ry="2.2"/>
<ellipse cx="613.26" cy="224.1" rx="2.4" ry="2.2"/>
<ellipse cx="618.52" cy="154.35" rx="2.4" ry="2.2"/>
<ellipse cx="618.52" cy="170.62" rx="2.4" ry="2.2"/>
<ellipse cx="623.78" cy="124.12" rx="2.4" ry="2.2"/>
<ellipse cx="623.78" cy="133.43" rx="2.4" ry="2.2"/>
<ellipse cx="623.78" cy="152.03" rx="2.4" ry="2.2"/>
<ellipse cx="623.78" cy="186.9" rx="2.4" ry="2.2"/>
<ellipse cx="623.78" cy="224.1" rx="2.4" ry="2.2"/>
<ellipse cx="623.78" cy="226.43" rx="2.4" ry="2.2"/>
<ellipse cx="629.04" cy="126.45" rx="2.4" ry="2.2"/>
<ellipse cx="629.04" cy="149.7" rx="2.4" ry="2.2"/>
<ellipse cx="629.04" cy="179.93" rx="2.4" ry="2.2"/>
<ellipse cx="629.04" cy="203.18" rx="2.4" ry="2.2"/>
<ellipse cx="634.3" cy="79.95" rx="2.4" ry="2.2"/>
<ellipse cx="634.3" cy="91.58" rx="2.4" ry="2.2"/>
<ellipse cx="634.3" cy="149.7" rx="2.4" ry="2.2"/>
<ellipse cx="634.3" cy="165.97" rx="2.4" ry="2.2"/>
<ellipse cx="634.3" cy="177.6" rx="2.4" ry="2.2"/>
<ellipse cx="639.56" cy="170.62" rx="2.4" ry="2.2"/>
<ellipse cx="639.56" cy="175.28" rx="2.4" ry="2.2"/>
<ellipse cx="639.56" cy="196.2" rx="2.4" ry="2.2"/>
<ellipse cx="644.82" cy="170.62" rx="2.4" ry="2.2"/>
<ellipse cx="650.08" cy="156.68" rx="2.4" ry="2.2"/>
<ellipse cx="650.08" cy="159" rx="2.4" ry="2.2"/>
<ellipse cx="650.08" cy="196.2" rx="2.4" ry="2.2"/>
<ellipse cx="650.08" cy="212.48" rx="2.4" ry="2.2"/>
<ellipse cx="650.08" cy="224.1" rx="2.4" ry="2.2"/>
<ellipse cx="655.34" cy="114.83" rx="2.4" ry="2.2"/>
<ellipse cx="655.34" cy="131.1" rx="2.4" ry="2.2"/>
<ellipse cx="655.34" cy="184.58" rx="2.4" ry="2.2"/>
<ellipse cx="660.6" cy="126.45" rx="2.4" ry="2.2"/>
<ellipse cx="660.6" cy="138.07" rx="2.4" ry="2.2"/>
<ellipse cx="660.6" cy="142.72" rx="2.4" ry="2.2"/>
<ellipse cx="660.6" cy="156.68" rx="2.4" ry="2.2"/>
<ellipse cx="660.6" cy="172.95" rx="2.4" ry="2.2"/>
<ellipse cx="660.6" cy="212.48" rx="2.4" ry="2.2"/>
<ellipse cx="665.86" cy="159" rx="2.4" ry="2.2"/>
<ellipse cx="665.86" cy="177.6" rx="2.4" ry="2.2"/>
<ellipse cx="671.12" cy="196.2" rx="2.4" ry="2.2"/>
<ellipse cx="671.12" cy="207.83" rx="2.4" ry="2.2"/>
<ellipse cx="671.12" cy="235.73" rx="2.4" ry="2.2"/>
<ellipse cx="676.38" cy="114.83" rx="2.4" ry="2.2"/>
<ellipse cx="676.38" cy="156.68" rx="2.4" ry="2.2"/>
<ellipse cx="676.38" cy="170.62" rx="2.4" ry="2.2"/>
<ellipse cx="681.64" cy="152.03" rx="2.4" ry="2.2"/>
<ellipse cx="681.64" cy="172.95" rx="2.4" ry="2.2"/>
<ellipse cx="681.64" cy="191.55" rx="2.4" ry="2.2"/>
<ellipse cx="686.9" cy="119.47" rx="2.4" ry="2.2"/>
<ellipse cx="686.9" cy="198.53" rx="2.4" ry="2.2"/>
<ellipse cx="692.16" cy="147.38" rx="2.4" ry="2.2"/>
<ellipse cx="692.16" cy="172.95" rx="2.4" ry="2.2"/>
<ellipse cx="692.16" cy="191.55" rx="2.4" ry="2.2"/>
<ellipse cx="697.42" cy="49.72" rx="2.4" ry="2.2"/>
<ellipse cx="697.42" cy="200.85" rx="2.4" ry="2.2"/>
<ellipse cx="707.94" cy="117.15" rx="2.4" ry="2.2"/>
<ellipse cx="713.2" cy="52.05" rx="2.4" ry="2.2"/>
<ellipse cx="713.2" cy="193.88" rx="2.4" ry="2.2"/>
<ellipse cx="728.98" cy="156.68" rx="2.4" ry="2.2"/>
<ellipse cx="728.98" cy="179.93" rx="2.4" ry="2.2"/>
<ellipse cx="739.5" cy="147.38" rx="2.4" ry="2.2"/>
<ellipse cx="750.02" cy="149.7" rx="2.4" ry="2.2"/>
</g>
<path d="M455.7 173.7C459.22 174 468.92 174.97 476.8 175.5C484.68 176.03 494.98 176.52 503 176.9C511.02 177.28 518.93 177.65 524.9 177.8C530.87 177.95 534.45 178.07 538.8 177.8C543.15 177.53 545.52 177.05 551 176.2C556.48 175.35 562.1 174.15 571.7 172.7C581.3 171.25 598.07 168.78 608.6 167.5C619.13 166.22 627.17 165.83 634.9 165C642.63 164.17 647.4 163.55 655 162.5C662.6 161.45 670.73 160.22 680.5 158.7C690.27 157.18 705.47 154.72 713.6 153.4C721.73 152.08 723.18 151.82 729.3 150.8C735.42 149.78 746.8 147.88 750.3 147.3" stroke="#3366ff" stroke-width="1.9" fill="none" stroke-linecap="butt" stroke-linejoin="round"/>
<text class="ax" x="450.2" y="271.4" font-size="8.0" text-anchor="middle" textLength="4.7" lengthAdjust="spacingAndGlyphs">0</text>
<text class="ax" x="555.4" y="271.4" font-size="8.0" text-anchor="middle" textLength="9.4" lengthAdjust="spacingAndGlyphs">20</text>
<text class="ax" x="660.6" y="271.4" font-size="8.0" text-anchor="middle" textLength="9.4" lengthAdjust="spacingAndGlyphs">40</text>
<text class="ax" x="435.2" y="248.58" font-size="8.0" text-anchor="end" textLength="9.4" lengthAdjust="spacingAndGlyphs">25</text>
<text class="ax" x="435.2" y="190.45" font-size="8.0" text-anchor="end" textLength="9.4" lengthAdjust="spacingAndGlyphs">50</text>
<text class="ax" x="435.2" y="132.33" font-size="8.0" text-anchor="end" textLength="9.4" lengthAdjust="spacingAndGlyphs">75</text>
<text class="ax" x="435.2" y="74.2" font-size="8.0" text-anchor="end" textLength="14.1" lengthAdjust="spacingAndGlyphs">100</text>
<text class="ax" x="435.2" y="16.08" font-size="8.0" text-anchor="end" textLength="14.1" lengthAdjust="spacingAndGlyphs">125</text>
<text class="ti" x="602.55" y="283.1" font-size="9.9" text-anchor="middle" textLength="142.8" lengthAdjust="spacingAndGlyphs">Duration of Kratom use (year)</text>
<text class="ti" font-size="9.9" text-anchor="middle" transform="translate(417.1 134.38) scale(1.15 1) rotate(-90)">HDL</text>
</g>
<g id="p3" filter="url(#soft)">
<rect x="47.8" y="319.15" width="320.1" height="277.55" fill="#ebebeb"/>
<path d="M91.75 319.15V596.7M166.45 319.15V596.7M241.15 319.15V596.7M315.85 319.15V596.7M47.8 547.66H367.9M47.8 484.54H367.9M47.8 421.41H367.9M47.8 358.29H367.9" stroke="#fff" stroke-width="0.55" fill="none" opacity="0.9"/>
<path d="M54.4 319.15V596.7M129.1 319.15V596.7M203.8 319.15V596.7M278.5 319.15V596.7M353.2 319.15V596.7M47.8 579.23H367.9M47.8 516.1H367.9M47.8 452.98H367.9M47.8 389.85H367.9M47.8 326.73H367.9" stroke="#fff" stroke-width="1.1" fill="none"/>
<path d="M54.4 596.7v3.2M129.1 596.7v3.2M203.8 596.7v3.2M278.5 596.7v3.2M353.2 596.7v3.2M47.8 579.23h-3.3M47.8 516.1h-3.3M47.8 452.98h-3.3M47.8 389.85h-3.3M47.8 326.73h-3.3" stroke="#333" stroke-width="1.15" fill="none"/>
<g fill="#000">
<ellipse cx="61.87" cy="331.78" rx="2.4" ry="2.3"/>
<ellipse cx="61.87" cy="384.8" rx="2.4" ry="2.3"/>
<ellipse cx="61.87" cy="410.05" rx="2.4" ry="2.3"/>
<ellipse cx="61.87" cy="420.15" rx="2.4" ry="2.3"/>
<ellipse cx="61.87" cy="447.93" rx="2.4" ry="2.3"/>
<ellipse cx="61.87" cy="450.45" rx="2.4" ry="2.3"/>
<ellipse cx="61.87" cy="458.03" rx="2.4" ry="2.3"/>
<ellipse cx="61.87" cy="463.08" rx="2.4" ry="2.3"/>
<ellipse cx="61.87" cy="468.12" rx="2.4" ry="2.3"/>
<ellipse cx="61.87" cy="470.65" rx="2.4" ry="2.3"/>
<ellipse cx="61.87" cy="473.18" rx="2.4" ry="2.3"/>
<ellipse cx="61.87" cy="478.23" rx="2.4" ry="2.3"/>
<ellipse cx="61.87" cy="480.75" rx="2.4" ry="2.3"/>
<ellipse cx="61.87" cy="483.28" rx="2.4" ry="2.3"/>
<ellipse cx="61.87" cy="485.8" rx="2.4" ry="2.3"/>
<ellipse cx="61.87" cy="488.33" rx="2.4" ry="2.3"/>
<ellipse cx="61.87" cy="493.38" rx="2.4" ry="2.3"/>
<ellipse cx="61.87" cy="495.9" rx="2.4" ry="2.3"/>
<ellipse cx="61.87" cy="498.43" rx="2.4" ry="2.3"/>
<ellipse cx="61.87" cy="500.95" rx="2.4" ry="2.3"/>
<ellipse cx="61.87" cy="503.48" rx="2.4" ry="2.3"/>
<ellipse cx="61.87" cy="506" rx="2.4" ry="2.3"/>
<ellipse cx="61.87" cy="511.05" rx="2.4" ry="2.3"/>
<ellipse cx="61.87" cy="513.58" rx="2.4" ry="2.3"/>
<ellipse cx="61.87" cy="516.1" rx="2.4" ry="2.3"/>
<ellipse cx="61.87" cy="518.62" rx="2.4" ry="2.3"/>
<ellipse cx="61.87" cy="521.15" rx="2.4" ry="2.3"/>
<ellipse cx="61.87" cy="523.68" rx="2.4" ry="2.3"/>
<ellipse cx="61.87" cy="526.2" rx="2.4" ry="2.3"/>
<ellipse cx="61.87" cy="528.73" rx="2.4" ry="2.3"/>
<ellipse cx="61.87" cy="531.25" rx="2.4" ry="2.3"/>
<ellipse cx="61.87" cy="533.77" rx="2.4" ry="2.3"/>
<ellipse cx="61.87" cy="536.3" rx="2.4" ry="2.3"/>
<ellipse cx="61.87" cy="538.83" rx="2.4" ry="2.3"/>
<ellipse cx="61.87" cy="541.35" rx="2.4" ry="2.3"/>
<ellipse cx="61.87" cy="543.88" rx="2.4" ry="2.3"/>
<ellipse cx="61.87" cy="548.93" rx="2.4" ry="2.3"/>
<ellipse cx="61.87" cy="551.45" rx="2.4" ry="2.3"/>
<ellipse cx="61.87" cy="553.98" rx="2.4" ry="2.3"/>
<ellipse cx="61.87" cy="559.02" rx="2.4" ry="2.3"/>
<ellipse cx="69.34" cy="336.83" rx="2.4" ry="2.3"/>
<ellipse cx="69.34" cy="435.3" rx="2.4" ry="2.3"/>
<ellipse cx="69.34" cy="437.83" rx="2.4" ry="2.3"/>
<ellipse cx="69.34" cy="458.03" rx="2.4" ry="2.3"/>
<ellipse cx="69.34" cy="460.55" rx="2.4" ry="2.3"/>
<ellipse cx="69.34" cy="465.6" rx="2.4" ry="2.3"/>
<ellipse cx="69.34" cy="468.12" rx="2.4" ry="2.3"/>
<ellipse cx="69.34" cy="470.65" rx="2.4" ry="2.3"/>
<ellipse cx="69.34" cy="473.18" rx="2.4" ry="2.3"/>
<ellipse cx="69.34" cy="475.7" rx="2.4" ry="2.3"/>
<ellipse cx="69.34" cy="480.75" rx="2.4" ry="2.3"/>
<ellipse cx="69.34" cy="488.33" rx="2.4" ry="2.3"/>
<ellipse cx="69.34" cy="490.85" rx="2.4" ry="2.3"/>
<ellipse cx="69.34" cy="493.38" rx="2.4" ry="2.3"/>
<ellipse cx="69.34" cy="498.43" rx="2.4" ry="2.3"/>
<ellipse cx="69.34" cy="508.53" rx="2.4" ry="2.3"/>
<ellipse cx="69.34" cy="516.1" rx="2.4" ry="2.3"/>
<ellipse cx="69.34" cy="518.62" rx="2.4" ry="2.3"/>
<ellipse cx="69.34" cy="521.15" rx="2.4" ry="2.3"/>
<ellipse cx="69.34" cy="523.68" rx="2.4" ry="2.3"/>
<ellipse cx="69.34" cy="526.2" rx="2.4" ry="2.3"/>
<ellipse cx="69.34" cy="528.73" rx="2.4" ry="2.3"/>
<ellipse cx="69.34" cy="531.25" rx="2.4" ry="2.3"/>
<ellipse cx="69.34" cy="533.77" rx="2.4" ry="2.3"/>
<ellipse cx="69.34" cy="536.3" rx="2.4" ry="2.3"/>
<ellipse cx="69.34" cy="538.83" rx="2.4" ry="2.3"/>
<ellipse cx="69.34" cy="541.35" rx="2.4" ry="2.3"/>
<ellipse cx="69.34" cy="543.88" rx="2.4" ry="2.3"/>
<ellipse cx="69.34" cy="546.4" rx="2.4" ry="2.3"/>
<ellipse cx="69.34" cy="548.93" rx="2.4" ry="2.3"/>
<ellipse cx="69.34" cy="561.55" rx="2.4" ry="2.3"/>
<ellipse cx="69.34" cy="566.6" rx="2.4" ry="2.3"/>
<ellipse cx="69.34" cy="574.18" rx="2.4" ry="2.3"/>
<ellipse cx="76.81" cy="435.3" rx="2.4" ry="2.3"/>
<ellipse cx="76.81" cy="442.88" rx="2.4" ry="2.3"/>
<ellipse cx="76.81" cy="445.4" rx="2.4" ry="2.3"/>
<ellipse cx="76.81" cy="447.93" rx="2.4" ry="2.3"/>
<ellipse cx="76.81" cy="455.5" rx="2.4" ry="2.3"/>
<ellipse cx="76.81" cy="465.6" rx="2.4" ry="2.3"/>
<ellipse cx="76.81" cy="468.12" rx="2.4" ry="2.3"/>
<ellipse cx="76.81" cy="473.18" rx="2.4" ry="2.3"/>
<ellipse cx="76.81" cy="475.7" rx="2.4" ry="2.3"/>
<ellipse cx="76.81" cy="480.75" rx="2.4" ry="2.3"/>
<ellipse cx="76.81" cy="483.28" rx="2.4" ry="2.3"/>
<ellipse cx="76.81" cy="485.8" rx="2.4" ry="2.3"/>
<ellipse cx="76.81" cy="490.85" rx="2.4" ry="2.3"/>
<ellipse cx="76.81" cy="493.38" rx="2.4" ry="2.3"/>
<ellipse cx="76.81" cy="495.9" rx="2.4" ry="2.3"/>
<ellipse cx="76.81" cy="500.95" rx="2.4" ry="2.3"/>
<ellipse cx="76.81" cy="503.48" rx="2.4" ry="2.3"/>
<ellipse cx="76.81" cy="506" rx="2.4" ry="2.3"/>
<ellipse cx="76.81" cy="513.58" rx="2.4" ry="2.3"/>
<ellipse cx="76.81" cy="516.1" rx="2.4" ry="2.3"/>
<ellipse cx="76.81" cy="518.62" rx="2.4" ry="2.3"/>
<ellipse cx="76.81" cy="521.15" rx="2.4" ry="2.3"/>
<ellipse cx="76.81" cy="523.68" rx="2.4" ry="2.3"/>
<ellipse cx="76.81" cy="526.2" rx="2.4" ry="2.3"/>
<ellipse cx="76.81" cy="531.25" rx="2.4" ry="2.3"/>
<ellipse cx="76.81" cy="533.77" rx="2.4" ry="2.3"/>
<ellipse cx="76.81" cy="543.88" rx="2.4" ry="2.3"/>
<ellipse cx="76.81" cy="546.4" rx="2.4" ry="2.3"/>
<ellipse cx="76.81" cy="553.98" rx="2.4" ry="2.3"/>
<ellipse cx="76.81" cy="556.5" rx="2.4" ry="2.3"/>
<ellipse cx="76.81" cy="569.12" rx="2.4" ry="2.3"/>
<ellipse cx="84.28" cy="447.93" rx="2.4" ry="2.3"/>
<ellipse cx="84.28" cy="450.45" rx="2.4" ry="2.3"/>
<ellipse cx="84.28" cy="468.12" rx="2.4" ry="2.3"/>
<ellipse cx="84.28" cy="475.7" rx="2.4" ry="2.3"/>
<ellipse cx="84.28" cy="478.23" rx="2.4" ry="2.3"/>
<ellipse cx="84.28" cy="483.28" rx="2.4" ry="2.3"/>
<ellipse cx="84.28" cy="488.33" rx="2.4" ry="2.3"/>
<ellipse cx="84.28" cy="493.38" rx="2.4" ry="2.3"/>
<ellipse cx="84.28" cy="495.9" rx="2.4" ry="2.3"/>
<ellipse cx="84.28" cy="498.43" rx="2.4" ry="2.3"/>
<ellipse cx="84.28" cy="500.95" rx="2.4" ry="2.3"/>
<ellipse cx="84.28" cy="506" rx="2.4" ry="2.3"/>
<ellipse cx="84.28" cy="516.1" rx="2.4" ry="2.3"/>
<ellipse cx="84.28" cy="526.2" rx="2.4" ry="2.3"/>
<ellipse cx="84.28" cy="528.73" rx="2.4" ry="2.3"/>
<ellipse cx="84.28" cy="538.83" rx="2.4" ry="2.3"/>
<ellipse cx="84.28" cy="584.27" rx="2.4" ry="2.3"/>
<ellipse cx="91.75" cy="437.83" rx="2.4" ry="2.3"/>
<ellipse cx="91.75" cy="445.4" rx="2.4" ry="2.3"/>
<ellipse cx="91.75" cy="455.5" rx="2.4" ry="2.3"/>
<ellipse cx="91.75" cy="465.6" rx="2.4" ry="2.3"/>
<ellipse cx="91.75" cy="480.75" rx="2.4" ry="2.3"/>
<ellipse cx="91.75" cy="485.8" rx="2.4" ry="2.3"/>
<ellipse cx="91.75" cy="490.85" rx="2.4" ry="2.3"/>
<ellipse cx="91.75" cy="493.38" rx="2.4" ry="2.3"/>
<ellipse cx="91.75" cy="498.43" rx="2.4" ry="2.3"/>
<ellipse cx="91.75" cy="513.58" rx="2.4" ry="2.3"/>
<ellipse cx="91.75" cy="521.15" rx="2.4" ry="2.3"/>
<ellipse cx="91.75" cy="523.68" rx="2.4" ry="2.3"/>
<ellipse cx="91.75" cy="533.77" rx="2.4" ry="2.3"/>
<ellipse cx="91.75" cy="536.3" rx="2.4" ry="2.3"/>
<ellipse cx="91.75" cy="538.83" rx="2.4" ry="2.3"/>
<ellipse cx="91.75" cy="541.35" rx="2.4" ry="2.3"/>
<ellipse cx="91.75" cy="543.88" rx="2.4" ry="2.3"/>
<ellipse cx="91.75" cy="546.4" rx="2.4" ry="2.3"/>
<ellipse cx="91.75" cy="551.45" rx="2.4" ry="2.3"/>
<ellipse cx="91.75" cy="556.5" rx="2.4" ry="2.3"/>
<ellipse cx="91.75" cy="564.08" rx="2.4" ry="2.3"/>
<ellipse cx="99.22" cy="367.12" rx="2.4" ry="2.3"/>
<ellipse cx="99.22" cy="460.55" rx="2.4" ry="2.3"/>
<ellipse cx="99.22" cy="475.7" rx="2.4" ry="2.3"/>
<ellipse cx="99.22" cy="478.23" rx="2.4" ry="2.3"/>
<ellipse cx="99.22" cy="498.43" rx="2.4" ry="2.3"/>
<ellipse cx="99.22" cy="508.53" rx="2.4" ry="2.3"/>
<ellipse cx="99.22" cy="523.68" rx="2.4" ry="2.3"/>
<ellipse cx="106.69" cy="422.68" rx="2.4" ry="2.3"/>
<ellipse cx="106.69" cy="450.45" rx="2.4" ry="2.3"/>
<ellipse cx="106.69" cy="475.7" rx="2.4" ry="2.3"/>
<ellipse cx="106.69" cy="478.23" rx="2.4" ry="2.3"/>
<ellipse cx="114.16" cy="498.43" rx="2.4" ry="2.3"/>
<ellipse cx="114.16" cy="543.88" rx="2.4" ry="2.3"/>
<ellipse cx="129.1" cy="369.65" rx="2.4" ry="2.3"/>
<ellipse cx="129.1" cy="397.43" rx="2.4" ry="2.3"/>
<ellipse cx="129.1" cy="399.95" rx="2.4" ry="2.3"/>
<ellipse cx="129.1" cy="412.58" rx="2.4" ry="2.3"/>
<ellipse cx="129.1" cy="440.35" rx="2.4" ry="2.3"/>
<ellipse cx="129.1" cy="442.88" rx="2.4" ry="2.3"/>
<ellipse cx="129.1" cy="450.45" rx="2.4" ry="2.3"/>
<ellipse cx="129.1" cy="463.08" rx="2.4" ry="2.3"/>
<ellipse cx="129.1" cy="468.12" rx="2.4" ry="2.3"/>
<ellipse cx="129.1" cy="478.23" rx="2.4" ry="2.3"/>
<ellipse cx="129.1" cy="483.28" rx="2.4" ry="2.3"/>
<ellipse cx="129.1" cy="488.33" rx="2.4" ry="2.3"/>
<ellipse cx="129.1" cy="493.38" rx="2.4" ry="2.3"/>
<ellipse cx="129.1" cy="498.43" rx="2.4" ry="2.3"/>
<ellipse cx="129.1" cy="500.95" rx="2.4" ry="2.3"/>
<ellipse cx="129.1" cy="506" rx="2.4" ry="2.3"/>
<ellipse cx="129.1" cy="508.53" rx="2.4" ry="2.3"/>
<ellipse cx="129.1" cy="513.58" rx="2.4" ry="2.3"/>
<ellipse cx="129.1" cy="516.1" rx="2.4" ry="2.3"/>
<ellipse cx="129.1" cy="518.62" rx="2.4" ry="2.3"/>
<ellipse cx="129.1" cy="521.15" rx="2.4" ry="2.3"/>
<ellipse cx="129.1" cy="523.68" rx="2.4" ry="2.3"/>
<ellipse cx="129.1" cy="526.2" rx="2.4" ry="2.3"/>
<ellipse cx="129.1" cy="531.25" rx="2.4" ry="2.3"/>
<ellipse cx="129.1" cy="543.88" rx="2.4" ry="2.3"/>
<ellipse cx="129.1" cy="548.93" rx="2.4" ry="2.3"/>
<ellipse cx="129.1" cy="553.98" rx="2.4" ry="2.3"/>
<ellipse cx="129.1" cy="556.5" rx="2.4" ry="2.3"/>
<ellipse cx="129.1" cy="559.02" rx="2.4" ry="2.3"/>
<ellipse cx="129.1" cy="561.55" rx="2.4" ry="2.3"/>
<ellipse cx="136.57" cy="480.75" rx="2.4" ry="2.3"/>
<ellipse cx="166.45" cy="387.33" rx="2.4" ry="2.3"/>
<ellipse cx="166.45" cy="458.03" rx="2.4" ry="2.3"/>
<ellipse cx="166.45" cy="465.6" rx="2.4" ry="2.3"/>
<ellipse cx="166.45" cy="490.85" rx="2.4" ry="2.3"/>
<ellipse cx="166.45" cy="513.58" rx="2.4" ry="2.3"/>
<ellipse cx="166.45" cy="516.1" rx="2.4" ry="2.3"/>
<ellipse cx="203.8" cy="382.28" rx="2.4" ry="2.3"/>
<ellipse cx="203.8" cy="389.85" rx="2.4" ry="2.3"/>
<ellipse cx="203.8" cy="447.93" rx="2.4" ry="2.3"/>
<ellipse cx="203.8" cy="475.7" rx="2.4" ry="2.3"/>
<ellipse cx="203.8" cy="483.28" rx="2.4" ry="2.3"/>
<ellipse cx="203.8" cy="485.8" rx="2.4" ry="2.3"/>
<ellipse cx="203.8" cy="490.85" rx="2.4" ry="2.3"/>
<ellipse cx="203.8" cy="500.95" rx="2.4" ry="2.3"/>
<ellipse cx="203.8" cy="506" rx="2.4" ry="2.3"/>
<ellipse cx="203.8" cy="516.1" rx="2.4" ry="2.3"/>
<ellipse cx="203.8" cy="521.15" rx="2.4" ry="2.3"/>
<ellipse cx="203.8" cy="523.68" rx="2.4" ry="2.3"/>
<ellipse cx="203.8" cy="528.73" rx="2.4" ry="2.3"/>
<ellipse cx="211.27" cy="556.5" rx="2.4" ry="2.3"/>
<ellipse cx="278.5" cy="506" rx="2.4" ry="2.3"/>
<ellipse cx="278.5" cy="521.15" rx="2.4" ry="2.3"/>
<ellipse cx="353.2" cy="521.15" rx="2.4" ry="2.3"/>
</g>
<path d="M61.9 502.5C64.4 502.68 72.4 503.72 76.9 503.6C81.4 503.48 85.15 502.97 88.9 501.8C92.65 500.63 96.37 498.07 99.4 496.6C102.43 495.13 104.88 493.77 107.1 493C109.32 492.23 110.83 492.05 112.7 492C114.57 491.95 116.2 492.3 118.3 492.7C120.4 493.1 123.45 494.28 125.3 494.4C127.15 494.52 125.28 494.38 129.4 493.4C133.52 492.42 143.83 489.6 150 488.5C156.17 487.4 159.25 487.4 166.4 486.8C173.55 486.2 186.65 485.22 192.9 484.9C199.15 484.58 198.62 484.58 203.9 484.9C209.18 485.22 218.58 486.23 224.6 486.8C230.62 487.37 234.47 487.5 240 488.3C245.53 489.1 251.43 490.02 257.8 491.6C264.18 493.18 271.73 495.58 278.25 497.8C284.77 500.02 290.61 502.23 296.9 504.9C303.19 507.57 309.77 510.83 316 513.8C322.23 516.77 328.08 519.58 334.3 522.7C340.52 525.82 350.13 530.87 353.3 532.5" stroke="#3366ff" stroke-width="1.9" fill="none" stroke-linecap="butt" stroke-linejoin="round"/>
<text class="ax lt" x="54.4" y="608.3" font-size="9.3" text-anchor="middle" textLength="4.6" lengthAdjust="spacingAndGlyphs">0</text>
<text class="ax lt" x="129.1" y="608.3" font-size="9.3" text-anchor="middle" textLength="9.2" lengthAdjust="spacingAndGlyphs">10</text>
<text class="ax lt" x="203.8" y="608.3" font-size="9.3" text-anchor="middle" textLength="9.2" lengthAdjust="spacingAndGlyphs">20</text>
<text class="ax lt" x="278.5" y="608.3" font-size="9.3" text-anchor="middle" textLength="9.2" lengthAdjust="spacingAndGlyphs">30</text>
<text class="ax lt" x="353.2" y="608.3" font-size="9.3" text-anchor="middle" textLength="9.2" lengthAdjust="spacingAndGlyphs">40</text>
<text class="ax lt" x="42.2" y="583.48" font-size="9.3" text-anchor="end" textLength="9.2" lengthAdjust="spacingAndGlyphs">25</text>
<text class="ax lt" x="42.2" y="520.35" font-size="9.3" text-anchor="end" textLength="9.2" lengthAdjust="spacingAndGlyphs">50</text>
<text class="ax lt" x="42.2" y="457.23" font-size="9.3" text-anchor="end" textLength="9.2" lengthAdjust="spacingAndGlyphs">75</text>
<text class="ax lt" x="42.2" y="394.1" font-size="9.3" text-anchor="end" textLength="13.8" lengthAdjust="spacingAndGlyphs">100</text>
<text class="ax lt" x="42.2" y="330.98" font-size="9.3" text-anchor="end" textLength="13.8" lengthAdjust="spacingAndGlyphs">125</text>
<text class="ti" x="207.35" y="620" font-size="10.7" text-anchor="middle" textLength="190.4" lengthAdjust="spacingAndGlyphs">Frequency of Kratom use per day (time)</text>
<text class="ti" font-size="10.7" text-anchor="middle" transform="translate(23.1 458.93) scale(1.0 1) rotate(-90)">HDL</text>
</g>
<g id="p4" filter="url(#soft)">
<rect x="440.8" y="319.15" width="324.9" height="277.65" fill="#ebebeb"/>
<path d="M489.69 319.15V596.8M564.26 319.15V596.8M638.84 319.15V596.8M713.41 319.15V596.8M440.8 547.76H765.7M440.8 484.64H765.7M440.8 421.51H765.7M440.8 358.39H765.7" stroke="#fff" stroke-width="0.55" fill="none" opacity="0.9"/>
<path d="M452.4 319.15V596.8M526.98 319.15V596.8M601.55 319.15V596.8M676.12 319.15V596.8M750.7 319.15V596.8M440.8 579.33H765.7M440.8 516.2H765.7M440.8 453.08H765.7M440.8 389.95H765.7M440.8 326.83H765.7" stroke="#fff" stroke-width="1.1" fill="none"/>
<path d="M452.4 596.8v3.2M526.98 596.8v3.2M601.55 596.8v3.2M676.12 596.8v3.2M750.7 596.8v3.2M440.8 579.33h-3.3M440.8 516.2h-3.3M440.8 453.08h-3.3M440.8 389.95h-3.3M440.8 326.83h-3.3" stroke="#333" stroke-width="1.15" fill="none"/>
<g fill="#000">
<ellipse cx="455.38" cy="384.9" rx="2.4" ry="2.3"/>
<ellipse cx="455.38" cy="458.13" rx="2.4" ry="2.3"/>
<ellipse cx="455.38" cy="463.18" rx="2.4" ry="2.3"/>
<ellipse cx="455.38" cy="470.75" rx="2.4" ry="2.3"/>
<ellipse cx="455.38" cy="473.28" rx="2.4" ry="2.3"/>
<ellipse cx="455.38" cy="475.8" rx="2.4" ry="2.3"/>
<ellipse cx="455.38" cy="480.85" rx="2.4" ry="2.3"/>
<ellipse cx="455.38" cy="483.38" rx="2.4" ry="2.3"/>
<ellipse cx="455.38" cy="485.9" rx="2.4" ry="2.3"/>
<ellipse cx="455.38" cy="488.43" rx="2.4" ry="2.3"/>
<ellipse cx="455.38" cy="493.48" rx="2.4" ry="2.3"/>
<ellipse cx="455.38" cy="496" rx="2.4" ry="2.3"/>
<ellipse cx="455.38" cy="498.53" rx="2.4" ry="2.3"/>
<ellipse cx="455.38" cy="501.05" rx="2.4" ry="2.3"/>
<ellipse cx="455.38" cy="503.58" rx="2.4" ry="2.3"/>
<ellipse cx="455.38" cy="506.1" rx="2.4" ry="2.3"/>
<ellipse cx="455.38" cy="508.63" rx="2.4" ry="2.3"/>
<ellipse cx="455.38" cy="511.15" rx="2.4" ry="2.3"/>
<ellipse cx="455.38" cy="513.68" rx="2.4" ry="2.3"/>
<ellipse cx="455.38" cy="516.2" rx="2.4" ry="2.3"/>
<ellipse cx="455.38" cy="518.73" rx="2.4" ry="2.3"/>
<ellipse cx="455.38" cy="521.25" rx="2.4" ry="2.3"/>
<ellipse cx="455.38" cy="523.78" rx="2.4" ry="2.3"/>
<ellipse cx="455.38" cy="526.3" rx="2.4" ry="2.3"/>
<ellipse cx="455.38" cy="528.83" rx="2.4" ry="2.3"/>
<ellipse cx="455.38" cy="531.35" rx="2.4" ry="2.3"/>
<ellipse cx="455.38" cy="533.88" rx="2.4" ry="2.3"/>
<ellipse cx="455.38" cy="536.4" rx="2.4" ry="2.3"/>
<ellipse cx="455.38" cy="551.55" rx="2.4" ry="2.3"/>
<ellipse cx="455.38" cy="554.08" rx="2.4" ry="2.3"/>
<ellipse cx="455.38" cy="559.12" rx="2.4" ry="2.3"/>
<ellipse cx="458.37" cy="435.4" rx="2.4" ry="2.3"/>
<ellipse cx="458.37" cy="448.03" rx="2.4" ry="2.3"/>
<ellipse cx="458.37" cy="450.55" rx="2.4" ry="2.3"/>
<ellipse cx="458.37" cy="460.65" rx="2.4" ry="2.3"/>
<ellipse cx="458.37" cy="473.28" rx="2.4" ry="2.3"/>
<ellipse cx="458.37" cy="475.8" rx="2.4" ry="2.3"/>
<ellipse cx="458.37" cy="480.85" rx="2.4" ry="2.3"/>
<ellipse cx="458.37" cy="493.48" rx="2.4" ry="2.3"/>
<ellipse cx="458.37" cy="496" rx="2.4" ry="2.3"/>
<ellipse cx="458.37" cy="501.05" rx="2.4" ry="2.3"/>
<ellipse cx="458.37" cy="503.58" rx="2.4" ry="2.3"/>
<ellipse cx="458.37" cy="506.1" rx="2.4" ry="2.3"/>
<ellipse cx="458.37" cy="508.63" rx="2.4" ry="2.3"/>
<ellipse cx="458.37" cy="511.15" rx="2.4" ry="2.3"/>
<ellipse cx="458.37" cy="513.68" rx="2.4" ry="2.3"/>
<ellipse cx="458.37" cy="516.2" rx="2.4" ry="2.3"/>
<ellipse cx="458.37" cy="518.73" rx="2.4" ry="2.3"/>
<ellipse cx="458.37" cy="521.25" rx="2.4" ry="2.3"/>
<ellipse cx="458.37" cy="523.78" rx="2.4" ry="2.3"/>
<ellipse cx="458.37" cy="526.3" rx="2.4" ry="2.3"/>
<ellipse cx="458.37" cy="536.4" rx="2.4" ry="2.3"/>
<ellipse cx="458.37" cy="538.93" rx="2.4" ry="2.3"/>
<ellipse cx="458.37" cy="541.45" rx="2.4" ry="2.3"/>
<ellipse cx="458.37" cy="543.98" rx="2.4" ry="2.3"/>
<ellipse cx="458.37" cy="549.03" rx="2.4" ry="2.3"/>
<ellipse cx="461.35" cy="420.25" rx="2.4" ry="2.3"/>
<ellipse cx="461.35" cy="473.28" rx="2.4" ry="2.3"/>
<ellipse cx="461.35" cy="485.9" rx="2.4" ry="2.3"/>
<ellipse cx="461.35" cy="501.05" rx="2.4" ry="2.3"/>
<ellipse cx="461.35" cy="513.68" rx="2.4" ry="2.3"/>
<ellipse cx="461.35" cy="518.73" rx="2.4" ry="2.3"/>
<ellipse cx="461.35" cy="521.25" rx="2.4" ry="2.3"/>
<ellipse cx="464.33" cy="450.55" rx="2.4" ry="2.3"/>
<ellipse cx="464.33" cy="458.13" rx="2.4" ry="2.3"/>
<ellipse cx="464.33" cy="468.23" rx="2.4" ry="2.3"/>
<ellipse cx="464.33" cy="478.33" rx="2.4" ry="2.3"/>
<ellipse cx="464.33" cy="490.95" rx="2.4" ry="2.3"/>
<ellipse cx="464.33" cy="493.48" rx="2.4" ry="2.3"/>
<ellipse cx="464.33" cy="506.1" rx="2.4" ry="2.3"/>
<ellipse cx="464.33" cy="516.2" rx="2.4" ry="2.3"/>
<ellipse cx="464.33" cy="518.73" rx="2.4" ry="2.3"/>
<ellipse cx="464.33" cy="531.35" rx="2.4" ry="2.3"/>
<ellipse cx="464.33" cy="549.03" rx="2.4" ry="2.3"/>
<ellipse cx="464.33" cy="554.08" rx="2.4" ry="2.3"/>
<ellipse cx="464.33" cy="561.65" rx="2.4" ry="2.3"/>
<ellipse cx="467.31" cy="465.7" rx="2.4" ry="2.3"/>
<ellipse cx="467.31" cy="473.28" rx="2.4" ry="2.3"/>
<ellipse cx="467.31" cy="526.3" rx="2.4" ry="2.3"/>
<ellipse cx="467.31" cy="533.88" rx="2.4" ry="2.3"/>
<ellipse cx="467.31" cy="556.6" rx="2.4" ry="2.3"/>
<ellipse cx="467.31" cy="564.18" rx="2.4" ry="2.3"/>
<ellipse cx="470.3" cy="458.13" rx="2.4" ry="2.3"/>
<ellipse cx="470.3" cy="465.7" rx="2.4" ry="2.3"/>
<ellipse cx="470.3" cy="473.28" rx="2.4" ry="2.3"/>
<ellipse cx="470.3" cy="478.33" rx="2.4" ry="2.3"/>
<ellipse cx="470.3" cy="488.43" rx="2.4" ry="2.3"/>
<ellipse cx="470.3" cy="496" rx="2.4" ry="2.3"/>
<ellipse cx="470.3" cy="506.1" rx="2.4" ry="2.3"/>
<ellipse cx="470.3" cy="508.63" rx="2.4" ry="2.3"/>
<ellipse cx="470.3" cy="516.2" rx="2.4" ry="2.3"/>
<ellipse cx="470.3" cy="518.73" rx="2.4" ry="2.3"/>
<ellipse cx="470.3" cy="523.78" rx="2.4" ry="2.3"/>
<ellipse cx="470.3" cy="533.88" rx="2.4" ry="2.3"/>
<ellipse cx="470.3" cy="549.03" rx="2.4" ry="2.3"/>
<ellipse cx="470.3" cy="556.6" rx="2.4" ry="2.3"/>
<ellipse cx="473.28" cy="465.7" rx="2.4" ry="2.3"/>
<ellipse cx="473.28" cy="531.35" rx="2.4" ry="2.3"/>
<ellipse cx="473.28" cy="538.93" rx="2.4" ry="2.3"/>
<ellipse cx="476.26" cy="410.15" rx="2.4" ry="2.3"/>
<ellipse cx="476.26" cy="483.38" rx="2.4" ry="2.3"/>
<ellipse cx="476.26" cy="488.43" rx="2.4" ry="2.3"/>
<ellipse cx="476.26" cy="516.2" rx="2.4" ry="2.3"/>
<ellipse cx="476.26" cy="541.45" rx="2.4" ry="2.3"/>
<ellipse cx="476.26" cy="543.98" rx="2.4" ry="2.3"/>
<ellipse cx="479.25" cy="448.03" rx="2.4" ry="2.3"/>
<ellipse cx="479.25" cy="480.85" rx="2.4" ry="2.3"/>
<ellipse cx="479.25" cy="569.23" rx="2.4" ry="2.3"/>
<ellipse cx="482.23" cy="331.88" rx="2.4" ry="2.3"/>
<ellipse cx="482.23" cy="367.23" rx="2.4" ry="2.3"/>
<ellipse cx="482.23" cy="437.93" rx="2.4" ry="2.3"/>
<ellipse cx="482.23" cy="445.5" rx="2.4" ry="2.3"/>
<ellipse cx="482.23" cy="448.03" rx="2.4" ry="2.3"/>
<ellipse cx="482.23" cy="455.6" rx="2.4" ry="2.3"/>
<ellipse cx="482.23" cy="458.13" rx="2.4" ry="2.3"/>
<ellipse cx="482.23" cy="468.23" rx="2.4" ry="2.3"/>
<ellipse cx="482.23" cy="475.8" rx="2.4" ry="2.3"/>
<ellipse cx="482.23" cy="480.85" rx="2.4" ry="2.3"/>
<ellipse cx="482.23" cy="490.95" rx="2.4" ry="2.3"/>
<ellipse cx="482.23" cy="493.48" rx="2.4" ry="2.3"/>
<ellipse cx="482.23" cy="498.53" rx="2.4" ry="2.3"/>
<ellipse cx="482.23" cy="508.63" rx="2.4" ry="2.3"/>
<ellipse cx="482.23" cy="513.68" rx="2.4" ry="2.3"/>
<ellipse cx="482.23" cy="516.2" rx="2.4" ry="2.3"/>
<ellipse cx="482.23" cy="521.25" rx="2.4" ry="2.3"/>
<ellipse cx="482.23" cy="523.78" rx="2.4" ry="2.3"/>
<ellipse cx="482.23" cy="526.3" rx="2.4" ry="2.3"/>
<ellipse cx="482.23" cy="528.83" rx="2.4" ry="2.3"/>
<ellipse cx="482.23" cy="536.4" rx="2.4" ry="2.3"/>
<ellipse cx="482.23" cy="538.93" rx="2.4" ry="2.3"/>
<ellipse cx="482.23" cy="546.5" rx="2.4" ry="2.3"/>
<ellipse cx="482.23" cy="556.6" rx="2.4" ry="2.3"/>
<ellipse cx="482.23" cy="559.12" rx="2.4" ry="2.3"/>
<ellipse cx="482.23" cy="574.28" rx="2.4" ry="2.3"/>
<ellipse cx="488.2" cy="475.8" rx="2.4" ry="2.3"/>
<ellipse cx="488.2" cy="478.33" rx="2.4" ry="2.3"/>
<ellipse cx="488.2" cy="483.38" rx="2.4" ry="2.3"/>
<ellipse cx="488.2" cy="498.53" rx="2.4" ry="2.3"/>
<ellipse cx="488.2" cy="523.78" rx="2.4" ry="2.3"/>
<ellipse cx="488.2" cy="546.5" rx="2.4" ry="2.3"/>
<ellipse cx="488.2" cy="566.7" rx="2.4" ry="2.3"/>
<ellipse cx="488.2" cy="584.38" rx="2.4" ry="2.3"/>
<ellipse cx="494.16" cy="422.78" rx="2.4" ry="2.3"/>
<ellipse cx="494.16" cy="465.7" rx="2.4" ry="2.3"/>
<ellipse cx="494.16" cy="546.5" rx="2.4" ry="2.3"/>
<ellipse cx="497.14" cy="483.38" rx="2.4" ry="2.3"/>
<ellipse cx="497.14" cy="523.78" rx="2.4" ry="2.3"/>
<ellipse cx="497.14" cy="543.98" rx="2.4" ry="2.3"/>
<ellipse cx="500.13" cy="498.53" rx="2.4" ry="2.3"/>
<ellipse cx="506.09" cy="460.65" rx="2.4" ry="2.3"/>
<ellipse cx="506.09" cy="508.63" rx="2.4" ry="2.3"/>
<ellipse cx="512.06" cy="389.95" rx="2.4" ry="2.3"/>
<ellipse cx="512.06" cy="397.53" rx="2.4" ry="2.3"/>
<ellipse cx="512.06" cy="440.45" rx="2.4" ry="2.3"/>
<ellipse cx="512.06" cy="442.98" rx="2.4" ry="2.3"/>
<ellipse cx="512.06" cy="450.55" rx="2.4" ry="2.3"/>
<ellipse cx="512.06" cy="468.23" rx="2.4" ry="2.3"/>
<ellipse cx="512.06" cy="475.8" rx="2.4" ry="2.3"/>
<ellipse cx="512.06" cy="480.85" rx="2.4" ry="2.3"/>
<ellipse cx="512.06" cy="483.38" rx="2.4" ry="2.3"/>
<ellipse cx="512.06" cy="485.9" rx="2.4" ry="2.3"/>
<ellipse cx="512.06" cy="488.43" rx="2.4" ry="2.3"/>
<ellipse cx="512.06" cy="490.95" rx="2.4" ry="2.3"/>
<ellipse cx="512.06" cy="498.53" rx="2.4" ry="2.3"/>
<ellipse cx="512.06" cy="501.05" rx="2.4" ry="2.3"/>
<ellipse cx="512.06" cy="506.1" rx="2.4" ry="2.3"/>
<ellipse cx="512.06" cy="508.63" rx="2.4" ry="2.3"/>
<ellipse cx="512.06" cy="516.2" rx="2.4" ry="2.3"/>
<ellipse cx="512.06" cy="521.25" rx="2.4" ry="2.3"/>
<ellipse cx="512.06" cy="526.3" rx="2.4" ry="2.3"/>
<ellipse cx="512.06" cy="528.83" rx="2.4" ry="2.3"/>
<ellipse cx="512.06" cy="531.35" rx="2.4" ry="2.3"/>
<ellipse cx="512.06" cy="533.88" rx="2.4" ry="2.3"/>
<ellipse cx="512.06" cy="538.93" rx="2.4" ry="2.3"/>
<ellipse cx="512.06" cy="543.98" rx="2.4" ry="2.3"/>
<ellipse cx="512.06" cy="546.5" rx="2.4" ry="2.3"/>
<ellipse cx="512.06" cy="549.03" rx="2.4" ry="2.3"/>
<ellipse cx="512.06" cy="559.12" rx="2.4" ry="2.3"/>
<ellipse cx="515.04" cy="478.33" rx="2.4" ry="2.3"/>
<ellipse cx="523.99" cy="543.98" rx="2.4" ry="2.3"/>
<ellipse cx="526.98" cy="493.48" rx="2.4" ry="2.3"/>
<ellipse cx="526.98" cy="513.68" rx="2.4" ry="2.3"/>
<ellipse cx="526.98" cy="551.55" rx="2.4" ry="2.3"/>
<ellipse cx="526.98" cy="556.6" rx="2.4" ry="2.3"/>
<ellipse cx="541.89" cy="369.75" rx="2.4" ry="2.3"/>
<ellipse cx="541.89" cy="387.43" rx="2.4" ry="2.3"/>
<ellipse cx="541.89" cy="389.95" rx="2.4" ry="2.3"/>
<ellipse cx="541.89" cy="400.05" rx="2.4" ry="2.3"/>
<ellipse cx="541.89" cy="412.68" rx="2.4" ry="2.3"/>
<ellipse cx="541.89" cy="435.4" rx="2.4" ry="2.3"/>
<ellipse cx="541.89" cy="437.93" rx="2.4" ry="2.3"/>
<ellipse cx="541.89" cy="442.98" rx="2.4" ry="2.3"/>
<ellipse cx="541.89" cy="450.55" rx="2.4" ry="2.3"/>
<ellipse cx="541.89" cy="458.13" rx="2.4" ry="2.3"/>
<ellipse cx="541.89" cy="465.7" rx="2.4" ry="2.3"/>
<ellipse cx="541.89" cy="468.23" rx="2.4" ry="2.3"/>
<ellipse cx="541.89" cy="475.8" rx="2.4" ry="2.3"/>
<ellipse cx="541.89" cy="478.33" rx="2.4" ry="2.3"/>
<ellipse cx="541.89" cy="480.85" rx="2.4" ry="2.3"/>
<ellipse cx="541.89" cy="483.38" rx="2.4" ry="2.3"/>
<ellipse cx="541.89" cy="490.95" rx="2.4" ry="2.3"/>
<ellipse cx="541.89" cy="501.05" rx="2.4" ry="2.3"/>
<ellipse cx="541.89" cy="506.1" rx="2.4" ry="2.3"/>
<ellipse cx="541.89" cy="513.68" rx="2.4" ry="2.3"/>
<ellipse cx="541.89" cy="516.2" rx="2.4" ry="2.3"/>
<ellipse cx="541.89" cy="518.73" rx="2.4" ry="2.3"/>
<ellipse cx="541.89" cy="521.25" rx="2.4" ry="2.3"/>
<ellipse cx="541.89" cy="523.78" rx="2.4" ry="2.3"/>
<ellipse cx="541.89" cy="526.3" rx="2.4" ry="2.3"/>
<ellipse cx="541.89" cy="531.35" rx="2.4" ry="2.3"/>
<ellipse cx="541.89" cy="554.08" rx="2.4" ry="2.3"/>
<ellipse cx="556.8" cy="516.2" rx="2.4" ry="2.3"/>
<ellipse cx="571.72" cy="382.38" rx="2.4" ry="2.3"/>
<ellipse cx="571.72" cy="448.03" rx="2.4" ry="2.3"/>
<ellipse cx="571.72" cy="483.38" rx="2.4" ry="2.3"/>
<ellipse cx="571.72" cy="485.9" rx="2.4" ry="2.3"/>
<ellipse cx="571.72" cy="501.05" rx="2.4" ry="2.3"/>
<ellipse cx="571.72" cy="516.2" rx="2.4" ry="2.3"/>
<ellipse cx="571.72" cy="521.25" rx="2.4" ry="2.3"/>
<ellipse cx="571.72" cy="523.78" rx="2.4" ry="2.3"/>
<ellipse cx="571.72" cy="561.65" rx="2.4" ry="2.3"/>
<ellipse cx="601.55" cy="463.18" rx="2.4" ry="2.3"/>
<ellipse cx="601.55" cy="475.8" rx="2.4" ry="2.3"/>
<ellipse cx="601.55" cy="518.73" rx="2.4" ry="2.3"/>
<ellipse cx="601.55" cy="556.6" rx="2.4" ry="2.3"/>
<ellipse cx="631.38" cy="480.85" rx="2.4" ry="2.3"/>
<ellipse cx="631.38" cy="523.78" rx="2.4" ry="2.3"/>
<ellipse cx="661.21" cy="528.83" rx="2.4" ry="2.3"/>
<ellipse cx="720.87" cy="521.25" rx="2.4" ry="2.3"/>
<ellipse cx="750.7" cy="516.2" rx="2.4" ry="2.3"/>
<ellipse cx="750.7" cy="521.25" rx="2.4" ry="2.3"/>
</g>
<path d="M455.4 506C456.67 505.65 460.58 504.57 463 503.9C465.42 503.23 467.58 502.55 469.9 502C472.22 501.45 474.85 500.98 476.9 500.6C478.95 500.22 480.57 500.05 482.2 499.7C483.83 499.35 485.42 498.78 486.7 498.5C487.98 498.22 488.85 498.02 489.9 498C490.95 497.98 491.9 498.12 493 498.4C494.1 498.68 495.22 499.23 496.5 499.7C497.78 500.17 499.3 500.73 500.7 501.2C502.1 501.67 503.62 502.22 504.9 502.5C506.18 502.78 507.23 502.93 508.4 502.9C509.57 502.87 510.62 502.77 511.9 502.3C513.18 501.83 514.7 500.93 516.1 500.1C517.5 499.27 518.92 498.23 520.3 497.3C521.68 496.37 523.02 495.33 524.4 494.5C525.78 493.67 527.2 492.98 528.6 492.3C530 491.62 531.17 490.98 532.8 490.4C534.43 489.82 536.37 489.28 538.4 488.8C540.43 488.32 542.17 487.9 545 487.5C547.83 487.1 550.92 486.73 555.4 486.4C559.88 486.07 564.15 485.33 571.9 485.5C579.65 485.67 591.95 486.27 601.9 487.4C611.85 488.53 621.93 490.35 631.6 492.3C641.27 494.25 652.48 497.28 659.9 499.1C667.32 500.92 667.17 500.6 676.1 503.2C685.03 505.8 701.08 510.92 713.5 514.7C725.92 518.48 744.46 524.03 750.65 525.9" stroke="#3366ff" stroke-width="1.9" fill="none" stroke-linecap="butt" stroke-linejoin="round"/>
<text class="ax lt" x="452.4" y="608.3" font-size="9.3" text-anchor="middle" textLength="4.6" lengthAdjust="spacingAndGlyphs">0</text>
<text class="ax lt" x="526.98" y="608.3" font-size="9.3" text-anchor="middle" textLength="9.2" lengthAdjust="spacingAndGlyphs">25</text>
<text class="ax lt" x="601.55" y="608.3" font-size="9.3" text-anchor="middle" textLength="9.2" lengthAdjust="spacingAndGlyphs">50</text>
<text class="ax lt" x="676.12" y="608.3" font-size="9.3" text-anchor="middle" textLength="9.2" lengthAdjust="spacingAndGlyphs">75</text>
<text class="ax lt" x="750.7" y="608.3" font-size="9.3" text-anchor="middle" textLength="13.8" lengthAdjust="spacingAndGlyphs">100</text>
<text class="ax lt" x="435.2" y="583.58" font-size="9.3" text-anchor="end" textLength="9.2" lengthAdjust="spacingAndGlyphs">25</text>
<text class="ax lt" x="435.2" y="520.45" font-size="9.3" text-anchor="end" textLength="9.2" lengthAdjust="spacingAndGlyphs">50</text>
<text class="ax lt" x="435.2" y="457.33" font-size="9.3" text-anchor="end" textLength="9.2" lengthAdjust="spacingAndGlyphs">75</text>
<text class="ax lt" x="435.2" y="394.2" font-size="9.3" text-anchor="end" textLength="13.8" lengthAdjust="spacingAndGlyphs">100</text>
<text class="ax lt" x="435.2" y="331.08" font-size="9.3" text-anchor="end" textLength="13.8" lengthAdjust="spacingAndGlyphs">125</text>
<text class="ti" x="602.75" y="620.2" font-size="10.7" text-anchor="middle" textLength="232.7" lengthAdjust="spacingAndGlyphs">Number of Kratom leaves used per day (leaves)</text>
<text class="ti" font-size="10.7" text-anchor="middle" transform="translate(417.1 458.97) scale(1.0 1) rotate(-90)">HDL</text>
</g>
<g fill="#000">
<rect x="0" y="0" width="787" height="1"/>
<rect x="0" y="0" width="1" height="898"/>
<rect x="786" y="0" width="1" height="898"/>
<rect x="0" y="897" width="787" height="1"/>
</g><g fill="#222">
<rect x="393" y="0" width="1" height="652"/>
<rect x="0" y="313" width="787" height="1"/>
<rect x="0" y="652" width="787" height="1"/>
<rect x="0" y="701" width="787" height="1"/>
<rect x="0" y="750" width="787" height="1"/>
<rect x="0" y="799" width="787" height="1"/>
<rect x="0" y="848" width="787" height="1"/>
<rect x="432.5" y="652" width="1" height="245"/>
<rect x="593" y="652" width="1" height="245"/>
</g>
</svg>
<div class="tb" style="left:9.1px;top:652.9px">Characteristics</div>
<div class="tb" style="left:441.9px;top:652.9px">Coefficient</div>
<div class="tb" style="left:602.6px;top:652.9px">p-value</div>
<div class="tb" style="left:9.1px;top:701.9px">Age of first Kratom use (years old)</div>
<div class="tb" style="left:441.9px;top:701.9px">-.0055</div>
<div class="tb" style="left:602.6px;top:701.9px">0.036*</div>
<div class="tb" style="left:9.1px;top:750.9px">Duration of Kratom use (years)</div>
<div class="tb" style="left:441.9px;top:750.9px">0.139</div>
<div class="tb" style="left:602.6px;top:750.9px">0.019*</div>
<div class="tb" style="left:9.1px;top:799.9px">Frequency of Kratom use per day (times)</div>
<div class="tb" style="left:441.9px;top:799.9px">0.105</div>
<div class="tb" style="left:602.6px;top:799.9px">0.077</div>
<div class="tb" style="left:9.1px;top:848.9px">Number of Kratom leaves used per day (leaves)</div>
<div class="tb" style="left:441.9px;top:848.9px">0.068</div>
<div class="tb" style="left:602.6px;top:848.9px">0.258</div>
</body></html>
